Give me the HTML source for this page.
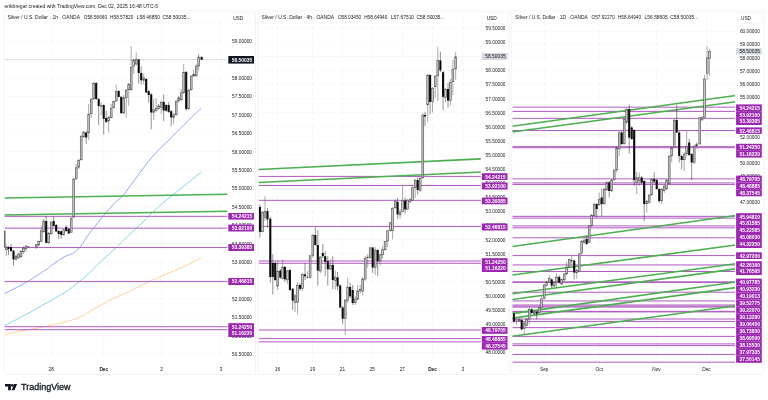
<!DOCTYPE html>
<html><head><meta charset="utf-8"><title>Silver charts</title>
<style>html,body{margin:0;padding:0;background:#fff;width:768px;height:400px;overflow:hidden}</style></head>
<body>
<svg width="768" height="400" viewBox="0 0 768 400" style="position:absolute;left:0;top:0;will-change:transform;font-family:'Liberation Sans',sans-serif">
<rect width="768" height="400" fill="#fff"/>
<text x="4.5" y="7.6" font-size="5.1" fill="#131722" textLength="153.5" lengthAdjust="spacingAndGlyphs">erikbregar created with TradingView.com, Dec 02, 2025 16:48 UTC-5</text>
<rect x="4.0" y="11.0" width="251.5" height="363.5" fill="#fff" stroke="#eaecf0" stroke-width="0.6"/>
<clipPath id="c1"><rect x="4.5" y="11.5" width="222.8" height="351.5"/></clipPath>
<line x1="4.5" x2="228.0" y1="354.05" y2="354.05" stroke="#f2f3f6" stroke-width="0.5"/>
<line x1="4.5" x2="228.0" y1="335.65" y2="335.65" stroke="#f2f3f6" stroke-width="0.5"/>
<line x1="4.5" x2="228.0" y1="317.25" y2="317.25" stroke="#f2f3f6" stroke-width="0.5"/>
<line x1="4.5" x2="228.0" y1="298.85" y2="298.85" stroke="#f2f3f6" stroke-width="0.5"/>
<line x1="4.5" x2="228.0" y1="280.45" y2="280.45" stroke="#f2f3f6" stroke-width="0.5"/>
<line x1="4.5" x2="228.0" y1="262.05" y2="262.05" stroke="#f2f3f6" stroke-width="0.5"/>
<line x1="4.5" x2="228.0" y1="243.65" y2="243.65" stroke="#f2f3f6" stroke-width="0.5"/>
<line x1="4.5" x2="228.0" y1="225.25" y2="225.25" stroke="#f2f3f6" stroke-width="0.5"/>
<line x1="4.5" x2="228.0" y1="206.85" y2="206.85" stroke="#f2f3f6" stroke-width="0.5"/>
<line x1="4.5" x2="228.0" y1="188.45" y2="188.45" stroke="#f2f3f6" stroke-width="0.5"/>
<line x1="4.5" x2="228.0" y1="170.05" y2="170.05" stroke="#f2f3f6" stroke-width="0.5"/>
<line x1="4.5" x2="228.0" y1="151.65" y2="151.65" stroke="#f2f3f6" stroke-width="0.5"/>
<line x1="4.5" x2="228.0" y1="133.25" y2="133.25" stroke="#f2f3f6" stroke-width="0.5"/>
<line x1="4.5" x2="228.0" y1="114.85" y2="114.85" stroke="#f2f3f6" stroke-width="0.5"/>
<line x1="4.5" x2="228.0" y1="96.45" y2="96.45" stroke="#f2f3f6" stroke-width="0.5"/>
<line x1="4.5" x2="228.0" y1="78.05" y2="78.05" stroke="#f2f3f6" stroke-width="0.5"/>
<line x1="4.5" x2="228.0" y1="59.65" y2="59.65" stroke="#f2f3f6" stroke-width="0.5"/>
<line x1="4.5" x2="228.0" y1="41.25" y2="41.25" stroke="#f2f3f6" stroke-width="0.5"/>
<line x1="4.5" x2="228.0" y1="22.85" y2="22.85" stroke="#f2f3f6" stroke-width="0.5"/>
<line x1="51.2" x2="51.2" y1="11.5" y2="363" stroke="#f2f3f6" stroke-width="0.5"/>
<line x1="103.8" x2="103.8" y1="11.5" y2="363" stroke="#f2f3f6" stroke-width="0.5"/>
<line x1="161.5" x2="161.5" y1="11.5" y2="363" stroke="#f2f3f6" stroke-width="0.5"/>
<line x1="221" x2="221" y1="11.5" y2="363" stroke="#f2f3f6" stroke-width="0.5"/>
<text x="7.50" y="19.3" font-size="4.9" fill="#131722" textLength="72.5" lengthAdjust="spacingAndGlyphs">Silver / U.S. Dollar · 1h · OANDA</text>
<text x="83.80" y="19.3" font-size="4.9" fill="#131722" textLength="23.2" lengthAdjust="spacingAndGlyphs">O58.56660</text>
<text x="110.10" y="19.3" font-size="4.9" fill="#131722" textLength="23.2" lengthAdjust="spacingAndGlyphs">H58.57820</text>
<text x="136.80" y="19.3" font-size="4.9" fill="#131722" textLength="23.2" lengthAdjust="spacingAndGlyphs">L58.46850</text>
<text x="162.50" y="19.3" font-size="4.9" fill="#131722" textLength="28.0" lengthAdjust="spacingAndGlyphs">C58.50035...</text>
<g clip-path="url(#c1)">
<line x1="4.5" x2="228.0" y1="59.64" y2="59.64" stroke="#8d9099" stroke-width="0.55" stroke-dasharray="0.7 0.7"/>
<path d="M4.5 293.5 C7.9 291.8 18.2 286.9 25.0 283.0 C31.8 279.1 41.0 273.0 45.5 270.0 C50.0 267.0 48.8 267.2 52.0 265.0 C55.2 262.8 61.6 258.4 65.0 256.5 C68.4 254.6 70.0 255.1 72.5 253.5 C75.0 251.9 77.5 249.9 80.0 247.0 C82.5 244.1 84.8 239.7 87.5 236.0 C90.2 232.3 92.9 228.9 96.0 225.0 C99.1 221.1 103.1 216.2 106.2 212.5 C109.4 208.8 112.3 205.2 115.0 202.5 C117.7 199.8 119.4 199.5 122.5 196.0 C125.6 192.5 130.2 186.0 133.8 181.2 C137.3 176.5 140.4 171.9 143.8 167.5 C147.1 163.1 150.2 159.0 153.8 155.0 C157.3 151.0 161.0 147.7 165.0 143.8 C169.0 139.8 173.3 135.4 177.5 131.2 C181.7 127.1 186.0 122.6 190.0 118.8 C194.0 114.9 199.4 110.0 201.2 108.2" fill="none" stroke="#8aa4f4" stroke-width="0.95" stroke-linejoin="round"/>
<path d="M4.5 325.8 C7.9 324.0 17.4 319.1 25.0 315.0 C32.6 310.9 43.3 304.8 50.0 301.0 C56.7 297.2 60.4 295.5 65.0 292.5 C69.6 289.5 73.3 286.3 77.5 283.0 C81.7 279.7 85.8 276.3 90.0 272.5 C94.2 268.7 98.1 264.2 102.5 260.0 C106.9 255.8 112.1 251.5 116.2 247.5 C120.4 243.5 123.5 240.0 127.5 236.2 C131.5 232.5 135.8 229.0 140.0 225.0 C144.2 221.0 148.3 216.5 152.5 212.5 C156.7 208.5 160.8 204.8 165.0 201.2 C169.2 197.7 173.3 194.6 177.5 191.2 C181.7 187.9 186.0 184.5 190.0 181.2 C194.0 178.0 199.6 173.5 201.5 172.0" fill="none" stroke="#7fd3ea" stroke-width="0.95" stroke-linejoin="round"/>
<path d="M4.5 334.3 C7.9 333.6 17.4 331.8 25.0 330.3 C32.6 328.8 41.7 327.4 50.0 325.5 C58.3 323.6 68.8 321.3 75.0 319.2 C81.2 317.1 83.3 315.1 87.5 312.8 C91.7 310.5 95.4 308.0 100.0 305.5 C104.6 303.0 109.6 300.4 115.0 297.8 C120.4 295.2 126.2 293.0 132.5 290.0 C138.8 287.0 145.0 283.4 152.5 280.0 C160.0 276.6 169.4 273.2 177.5 269.5 C185.6 265.8 197.3 259.9 201.2 258.0" fill="none" stroke="#ffcf8f" stroke-width="0.95" stroke-linejoin="round"/>
<line x1="4.5" x2="228.0" y1="216.34" y2="216.34" stroke="#ad50bf" stroke-width="0.95"/>
<line x1="4.5" x2="228.0" y1="228.16" y2="228.16" stroke="#ad50bf" stroke-width="0.95"/>
<line x1="4.5" x2="228.0" y1="247.56" y2="247.56" stroke="#ad50bf" stroke-width="0.95"/>
<line x1="4.5" x2="228.0" y1="281.62" y2="281.62" stroke="#ad50bf" stroke-width="0.95"/>
<line x1="4.5" x2="228.0" y1="326.73" y2="326.73" stroke="#ad50bf" stroke-width="0.95"/>
<line x1="4.5" x2="228.0" y1="329.68" y2="329.68" stroke="#ad50bf" stroke-width="0.95"/>
<line x1="4.5" y1="198" x2="228" y2="194.25" stroke="#4caf50" stroke-width="1.7"/>
<line x1="4.5" y1="215" x2="228" y2="211.25" stroke="#4caf50" stroke-width="1.7"/>
<line x1="4.30" x2="4.30" y1="230.6" y2="247.5" stroke="#222" stroke-width="0.5"/>
<rect x="3.25" y="230.6" width="2.1" height="16.9" fill="#0c0c0c"/>
<line x1="6.40" x2="6.40" y1="245.0" y2="256.0" stroke="#555" stroke-width="0.5"/>
<rect x="5.48" y="247.2" width="1.84" height="2.5" fill="#c8c8c8" stroke="#4c4c4c" stroke-width="0.6"/>
<line x1="8.50" x2="8.50" y1="246.0" y2="255.0" stroke="#222" stroke-width="0.5"/>
<rect x="7.45" y="247.0" width="2.1" height="2.0" fill="#0c0c0c"/>
<line x1="11.00" x2="11.00" y1="244.0" y2="252.0" stroke="#222" stroke-width="0.5"/>
<rect x="9.95" y="247.0" width="2.1" height="4.0" fill="#0c0c0c"/>
<line x1="13.50" x2="13.50" y1="250.0" y2="265.6" stroke="#222" stroke-width="0.5"/>
<rect x="12.45" y="250.7" width="2.1" height="8.7" fill="#0c0c0c"/>
<line x1="16.00" x2="16.00" y1="255.0" y2="261.0" stroke="#555" stroke-width="0.5"/>
<rect x="15.08" y="256.2" width="1.84" height="2.9" fill="#c8c8c8" stroke="#4c4c4c" stroke-width="0.6"/>
<line x1="18.50" x2="18.50" y1="253.0" y2="259.0" stroke="#555" stroke-width="0.5"/>
<rect x="17.58" y="254.2" width="1.84" height="3.5" fill="#c8c8c8" stroke="#4c4c4c" stroke-width="0.6"/>
<line x1="21.00" x2="21.00" y1="250.0" y2="258.0" stroke="#555" stroke-width="0.5"/>
<rect x="20.08" y="251.2" width="1.84" height="5.5" fill="#c8c8c8" stroke="#4c4c4c" stroke-width="0.6"/>
<line x1="23.50" x2="23.50" y1="246.0" y2="254.0" stroke="#555" stroke-width="0.5"/>
<rect x="22.58" y="248.2" width="1.84" height="3.5" fill="#c8c8c8" stroke="#4c4c4c" stroke-width="0.6"/>
<line x1="26.00" x2="26.00" y1="245.0" y2="252.0" stroke="#555" stroke-width="0.5"/>
<rect x="25.08" y="246.2" width="1.84" height="2.5" fill="#c8c8c8" stroke="#4c4c4c" stroke-width="0.6"/>
<line x1="28.50" x2="28.50" y1="246.6" y2="247.2" stroke="#555" stroke-width="0.5"/>
<rect x="27.58" y="246.8" width="1.84" height="0.3" fill="#c8c8c8" stroke="#4c4c4c" stroke-width="0.6"/>
<line x1="36.20" x2="36.20" y1="244.0" y2="249.0" stroke="#555" stroke-width="0.5"/>
<rect x="35.28" y="244.8" width="1.84" height="2.1" fill="#c8c8c8" stroke="#4c4c4c" stroke-width="0.6"/>
<line x1="38.70" x2="38.70" y1="241.0" y2="245.5" stroke="#555" stroke-width="0.5"/>
<rect x="37.78" y="241.2" width="1.84" height="4.0" fill="#c8c8c8" stroke="#4c4c4c" stroke-width="0.6"/>
<line x1="41.20" x2="41.20" y1="225.6" y2="242.0" stroke="#555" stroke-width="0.5"/>
<rect x="40.28" y="230.8" width="1.84" height="10.8" fill="#c8c8c8" stroke="#4c4c4c" stroke-width="0.6"/>
<line x1="43.70" x2="43.70" y1="219.0" y2="233.0" stroke="#555" stroke-width="0.5"/>
<rect x="42.78" y="221.2" width="1.84" height="10.5" fill="#c8c8c8" stroke="#4c4c4c" stroke-width="0.6"/>
<line x1="46.20" x2="46.20" y1="216.0" y2="243.5" stroke="#222" stroke-width="0.5"/>
<rect x="45.15" y="221.0" width="2.1" height="21.8" fill="#0c0c0c"/>
<line x1="48.70" x2="48.70" y1="232.0" y2="244.0" stroke="#555" stroke-width="0.5"/>
<rect x="47.78" y="233.2" width="1.84" height="9.5" fill="#c8c8c8" stroke="#4c4c4c" stroke-width="0.6"/>
<line x1="51.20" x2="51.20" y1="221.0" y2="235.0" stroke="#555" stroke-width="0.5"/>
<rect x="50.28" y="222.2" width="1.84" height="11.5" fill="#c8c8c8" stroke="#4c4c4c" stroke-width="0.6"/>
<line x1="53.70" x2="53.70" y1="216.5" y2="227.0" stroke="#222" stroke-width="0.5"/>
<rect x="52.65" y="221.0" width="2.1" height="5.0" fill="#0c0c0c"/>
<line x1="56.20" x2="56.20" y1="224.0" y2="232.0" stroke="#222" stroke-width="0.5"/>
<rect x="55.15" y="225.0" width="2.1" height="6.5" fill="#0c0c0c"/>
<line x1="58.70" x2="58.70" y1="230.0" y2="239.0" stroke="#222" stroke-width="0.5"/>
<rect x="57.65" y="231.0" width="2.1" height="3.0" fill="#0c0c0c"/>
<line x1="61.20" x2="61.20" y1="230.5" y2="238.8" stroke="#222" stroke-width="0.5"/>
<rect x="60.15" y="231.2" width="2.1" height="3.8" fill="#0c0c0c"/>
<line x1="63.70" x2="63.70" y1="229.0" y2="235.5" stroke="#555" stroke-width="0.5"/>
<rect x="62.78" y="229.7" width="1.84" height="5.1" fill="#c8c8c8" stroke="#4c4c4c" stroke-width="0.6"/>
<line x1="66.20" x2="66.20" y1="225.0" y2="232.0" stroke="#222" stroke-width="0.5"/>
<rect x="65.15" y="227.0" width="2.1" height="4.0" fill="#0c0c0c"/>
<line x1="68.70" x2="68.70" y1="228.0" y2="234.0" stroke="#222" stroke-width="0.5"/>
<rect x="67.65" y="229.0" width="2.1" height="4.5" fill="#0c0c0c"/>
<line x1="71.20" x2="71.20" y1="217.5" y2="233.0" stroke="#555" stroke-width="0.5"/>
<rect x="70.28" y="218.2" width="1.84" height="14.0" fill="#c8c8c8" stroke="#4c4c4c" stroke-width="0.6"/>
<line x1="73.70" x2="73.70" y1="178.0" y2="218.0" stroke="#555" stroke-width="0.5"/>
<rect x="72.78" y="179.2" width="1.84" height="38.0" fill="#c8c8c8" stroke="#4c4c4c" stroke-width="0.6"/>
<line x1="76.20" x2="76.20" y1="164.0" y2="180.0" stroke="#555" stroke-width="0.5"/>
<rect x="75.28" y="167.8" width="1.84" height="11.0" fill="#c8c8c8" stroke="#4c4c4c" stroke-width="0.6"/>
<line x1="78.70" x2="78.70" y1="159.0" y2="169.0" stroke="#555" stroke-width="0.5"/>
<rect x="77.78" y="160.2" width="1.84" height="7.0" fill="#c8c8c8" stroke="#4c4c4c" stroke-width="0.6"/>
<line x1="81.20" x2="81.20" y1="135.0" y2="161.0" stroke="#555" stroke-width="0.5"/>
<rect x="80.28" y="136.2" width="1.84" height="23.5" fill="#c8c8c8" stroke="#4c4c4c" stroke-width="0.6"/>
<line x1="83.70" x2="83.70" y1="131.0" y2="138.0" stroke="#555" stroke-width="0.5"/>
<rect x="82.78" y="132.2" width="1.84" height="4.5" fill="#c8c8c8" stroke="#4c4c4c" stroke-width="0.6"/>
<line x1="86.20" x2="86.20" y1="131.0" y2="144.0" stroke="#222" stroke-width="0.5"/>
<rect x="85.15" y="132.5" width="2.1" height="5.0" fill="#0c0c0c"/>
<line x1="88.70" x2="88.70" y1="104.0" y2="140.0" stroke="#555" stroke-width="0.5"/>
<rect x="87.78" y="114.2" width="1.84" height="18.5" fill="#c8c8c8" stroke="#4c4c4c" stroke-width="0.6"/>
<line x1="91.20" x2="91.20" y1="98.0" y2="118.0" stroke="#555" stroke-width="0.5"/>
<rect x="90.28" y="99.2" width="1.84" height="14.5" fill="#c8c8c8" stroke="#4c4c4c" stroke-width="0.6"/>
<line x1="93.70" x2="93.70" y1="82.0" y2="100.0" stroke="#555" stroke-width="0.5"/>
<rect x="92.78" y="83.2" width="1.84" height="15.5" fill="#c8c8c8" stroke="#4c4c4c" stroke-width="0.6"/>
<line x1="96.20" x2="96.20" y1="82.0" y2="100.0" stroke="#222" stroke-width="0.5"/>
<rect x="95.15" y="83.0" width="2.1" height="16.0" fill="#0c0c0c"/>
<line x1="98.70" x2="98.70" y1="98.0" y2="125.0" stroke="#222" stroke-width="0.5"/>
<rect x="97.65" y="99.0" width="2.1" height="7.0" fill="#0c0c0c"/>
<line x1="101.20" x2="101.20" y1="102.0" y2="115.0" stroke="#555" stroke-width="0.5"/>
<rect x="100.28" y="105.7" width="1.84" height="0.5" fill="#c8c8c8" stroke="#4c4c4c" stroke-width="0.6"/>
<line x1="103.70" x2="103.70" y1="104.5" y2="134.4" stroke="#222" stroke-width="0.5"/>
<rect x="102.65" y="105.0" width="2.1" height="13.8" fill="#0c0c0c"/>
<line x1="106.20" x2="106.20" y1="110.6" y2="123.0" stroke="#222" stroke-width="0.5"/>
<rect x="105.15" y="118.0" width="2.1" height="3.9" fill="#0c0c0c"/>
<line x1="108.70" x2="108.70" y1="116.0" y2="132.5" stroke="#555" stroke-width="0.5"/>
<rect x="107.78" y="117.2" width="1.84" height="3.8" fill="#c8c8c8" stroke="#4c4c4c" stroke-width="0.6"/>
<line x1="111.20" x2="111.20" y1="103.8" y2="118.5" stroke="#555" stroke-width="0.5"/>
<rect x="110.28" y="108.2" width="1.84" height="9.5" fill="#c8c8c8" stroke="#4c4c4c" stroke-width="0.6"/>
<line x1="113.70" x2="113.70" y1="100.5" y2="108.5" stroke="#555" stroke-width="0.5"/>
<rect x="112.78" y="101.5" width="1.84" height="6.2" fill="#c8c8c8" stroke="#4c4c4c" stroke-width="0.6"/>
<line x1="116.20" x2="116.20" y1="84.5" y2="102.0" stroke="#555" stroke-width="0.5"/>
<rect x="115.28" y="91.5" width="1.84" height="9.5" fill="#c8c8c8" stroke="#4c4c4c" stroke-width="0.6"/>
<line x1="118.70" x2="118.70" y1="90.0" y2="97.5" stroke="#222" stroke-width="0.5"/>
<rect x="117.65" y="91.0" width="2.1" height="5.9" fill="#0c0c0c"/>
<line x1="121.20" x2="121.20" y1="96.0" y2="114.0" stroke="#222" stroke-width="0.5"/>
<rect x="120.15" y="96.9" width="2.1" height="16.2" fill="#0c0c0c"/>
<line x1="123.70" x2="123.70" y1="95.0" y2="114.0" stroke="#555" stroke-width="0.5"/>
<rect x="122.78" y="97.8" width="1.84" height="15.1" fill="#c8c8c8" stroke="#4c4c4c" stroke-width="0.6"/>
<line x1="126.20" x2="126.20" y1="89.0" y2="117.5" stroke="#555" stroke-width="0.5"/>
<rect x="125.28" y="90.2" width="1.84" height="7.5" fill="#c8c8c8" stroke="#4c4c4c" stroke-width="0.6"/>
<line x1="128.70" x2="128.70" y1="83.0" y2="105.6" stroke="#555" stroke-width="0.5"/>
<rect x="127.78" y="84.2" width="1.84" height="5.5" fill="#c8c8c8" stroke="#4c4c4c" stroke-width="0.6"/>
<line x1="131.20" x2="131.20" y1="46.0" y2="91.0" stroke="#555" stroke-width="0.5"/>
<rect x="130.28" y="67.2" width="1.84" height="22.5" fill="#c8c8c8" stroke="#4c4c4c" stroke-width="0.6"/>
<line x1="133.70" x2="133.70" y1="59.0" y2="73.8" stroke="#555" stroke-width="0.5"/>
<rect x="132.78" y="60.0" width="1.84" height="6.6" fill="#c8c8c8" stroke="#4c4c4c" stroke-width="0.6"/>
<line x1="136.20" x2="136.20" y1="52.5" y2="65.0" stroke="#555" stroke-width="0.5"/>
<rect x="135.28" y="59.6" width="1.84" height="4.5" fill="#c8c8c8" stroke="#4c4c4c" stroke-width="0.6"/>
<line x1="138.70" x2="138.70" y1="59.0" y2="83.6" stroke="#222" stroke-width="0.5"/>
<rect x="137.65" y="59.4" width="2.1" height="13.6" fill="#0c0c0c"/>
<line x1="141.20" x2="141.20" y1="66.3" y2="84.5" stroke="#222" stroke-width="0.5"/>
<rect x="140.15" y="73.0" width="2.1" height="7.2" fill="#0c0c0c"/>
<line x1="143.70" x2="143.70" y1="73.6" y2="84.5" stroke="#555" stroke-width="0.5"/>
<rect x="142.78" y="77.7" width="1.84" height="2.6" fill="#c8c8c8" stroke="#4c4c4c" stroke-width="0.6"/>
<line x1="146.20" x2="146.20" y1="78.0" y2="93.0" stroke="#222" stroke-width="0.5"/>
<rect x="145.15" y="79.0" width="2.1" height="13.5" fill="#0c0c0c"/>
<line x1="148.70" x2="148.70" y1="90.0" y2="102.5" stroke="#222" stroke-width="0.5"/>
<rect x="147.65" y="91.2" width="2.1" height="3.8" fill="#0c0c0c"/>
<line x1="151.20" x2="151.20" y1="93.0" y2="129.4" stroke="#222" stroke-width="0.5"/>
<rect x="150.15" y="94.4" width="2.1" height="18.1" fill="#0c0c0c"/>
<line x1="153.70" x2="153.70" y1="98.8" y2="120.0" stroke="#555" stroke-width="0.5"/>
<rect x="152.78" y="109.7" width="1.84" height="2.6" fill="#c8c8c8" stroke="#4c4c4c" stroke-width="0.6"/>
<line x1="156.20" x2="156.20" y1="98.0" y2="112.5" stroke="#555" stroke-width="0.5"/>
<rect x="155.28" y="108.2" width="1.84" height="2.1" fill="#c8c8c8" stroke="#4c4c4c" stroke-width="0.6"/>
<line x1="158.70" x2="158.70" y1="104.0" y2="110.0" stroke="#555" stroke-width="0.5"/>
<rect x="157.78" y="105.8" width="1.84" height="2.7" fill="#c8c8c8" stroke="#4c4c4c" stroke-width="0.6"/>
<line x1="161.20" x2="161.20" y1="100.5" y2="113.8" stroke="#555" stroke-width="0.5"/>
<rect x="160.28" y="102.2" width="1.84" height="5.1" fill="#c8c8c8" stroke="#4c4c4c" stroke-width="0.6"/>
<line x1="163.70" x2="163.70" y1="94.4" y2="121.2" stroke="#222" stroke-width="0.5"/>
<rect x="162.65" y="101.9" width="2.1" height="8.7" fill="#0c0c0c"/>
<line x1="166.20" x2="166.20" y1="104.0" y2="112.0" stroke="#222" stroke-width="0.5"/>
<rect x="165.15" y="105.0" width="2.1" height="5.6" fill="#0c0c0c"/>
<line x1="168.70" x2="168.70" y1="101.9" y2="113.0" stroke="#222" stroke-width="0.5"/>
<rect x="167.65" y="105.0" width="2.1" height="6.9" fill="#0c0c0c"/>
<line x1="171.20" x2="171.20" y1="110.0" y2="126.2" stroke="#222" stroke-width="0.5"/>
<rect x="170.15" y="111.2" width="2.1" height="6.2" fill="#0c0c0c"/>
<line x1="173.70" x2="173.70" y1="113.0" y2="124.0" stroke="#555" stroke-width="0.5"/>
<rect x="172.78" y="114.7" width="1.84" height="2.6" fill="#c8c8c8" stroke="#4c4c4c" stroke-width="0.6"/>
<line x1="176.20" x2="176.20" y1="100.0" y2="116.0" stroke="#555" stroke-width="0.5"/>
<rect x="175.28" y="101.2" width="1.84" height="13.5" fill="#c8c8c8" stroke="#4c4c4c" stroke-width="0.6"/>
<line x1="178.70" x2="178.70" y1="96.0" y2="103.0" stroke="#555" stroke-width="0.5"/>
<rect x="177.78" y="97.8" width="1.84" height="3.0" fill="#c8c8c8" stroke="#4c4c4c" stroke-width="0.6"/>
<line x1="181.20" x2="181.20" y1="89.0" y2="101.0" stroke="#555" stroke-width="0.5"/>
<rect x="180.28" y="92.8" width="1.84" height="7.0" fill="#c8c8c8" stroke="#4c4c4c" stroke-width="0.6"/>
<line x1="183.70" x2="183.70" y1="64.0" y2="94.0" stroke="#555" stroke-width="0.5"/>
<rect x="182.78" y="72.2" width="1.84" height="20.5" fill="#c8c8c8" stroke="#4c4c4c" stroke-width="0.6"/>
<line x1="186.20" x2="186.20" y1="71.0" y2="111.0" stroke="#222" stroke-width="0.5"/>
<rect x="185.15" y="72.0" width="2.1" height="37.0" fill="#0c0c0c"/>
<line x1="188.70" x2="188.70" y1="89.0" y2="110.0" stroke="#555" stroke-width="0.5"/>
<rect x="187.78" y="90.2" width="1.84" height="18.5" fill="#c8c8c8" stroke="#4c4c4c" stroke-width="0.6"/>
<line x1="191.20" x2="191.20" y1="75.0" y2="91.0" stroke="#555" stroke-width="0.5"/>
<rect x="190.28" y="76.2" width="1.84" height="13.5" fill="#c8c8c8" stroke="#4c4c4c" stroke-width="0.6"/>
<line x1="193.70" x2="193.70" y1="69.4" y2="77.0" stroke="#555" stroke-width="0.5"/>
<rect x="192.78" y="74.2" width="1.84" height="1.8" fill="#c8c8c8" stroke="#4c4c4c" stroke-width="0.6"/>
<line x1="196.20" x2="196.20" y1="64.0" y2="77.0" stroke="#555" stroke-width="0.5"/>
<rect x="195.28" y="66.2" width="1.84" height="9.5" fill="#c8c8c8" stroke="#4c4c4c" stroke-width="0.6"/>
<line x1="198.70" x2="198.70" y1="53.8" y2="70.6" stroke="#555" stroke-width="0.5"/>
<rect x="197.78" y="57.1" width="1.84" height="8.9" fill="#c8c8c8" stroke="#4c4c4c" stroke-width="0.6"/>
<line x1="201.60" x2="201.60" y1="56.5" y2="60.0" stroke="#222" stroke-width="0.5"/>
<rect x="200.55" y="56.9" width="2.1" height="2.9" fill="#0c0c0c"/>
</g>
<rect x="229.5" y="13.2" width="25" height="10.4" rx="1" fill="#fff" stroke="#eef0f3" stroke-width="0.5"/>
<text x="233.2" y="20.2" font-size="4.75" fill="#131722">USD</text>
<text x="232.1" y="355.90" font-size="5.0" fill="#131722" textLength="19.9" lengthAdjust="spacingAndGlyphs">50.50000</text>
<text x="232.1" y="337.50" font-size="5.0" fill="#131722" textLength="19.9" lengthAdjust="spacingAndGlyphs">51.00000</text>
<text x="232.1" y="319.10" font-size="5.0" fill="#131722" textLength="19.9" lengthAdjust="spacingAndGlyphs">51.50000</text>
<text x="232.1" y="300.70" font-size="5.0" fill="#131722" textLength="19.9" lengthAdjust="spacingAndGlyphs">52.00000</text>
<text x="232.1" y="282.30" font-size="5.0" fill="#131722" textLength="19.9" lengthAdjust="spacingAndGlyphs">52.50000</text>
<text x="232.1" y="263.90" font-size="5.0" fill="#131722" textLength="19.9" lengthAdjust="spacingAndGlyphs">53.00000</text>
<text x="232.1" y="245.50" font-size="5.0" fill="#131722" textLength="19.9" lengthAdjust="spacingAndGlyphs">53.50000</text>
<text x="232.1" y="227.10" font-size="5.0" fill="#131722" textLength="19.9" lengthAdjust="spacingAndGlyphs">54.00000</text>
<text x="232.1" y="208.70" font-size="5.0" fill="#131722" textLength="19.9" lengthAdjust="spacingAndGlyphs">54.50000</text>
<text x="232.1" y="190.30" font-size="5.0" fill="#131722" textLength="19.9" lengthAdjust="spacingAndGlyphs">55.00000</text>
<text x="232.1" y="171.90" font-size="5.0" fill="#131722" textLength="19.9" lengthAdjust="spacingAndGlyphs">55.50000</text>
<text x="232.1" y="153.50" font-size="5.0" fill="#131722" textLength="19.9" lengthAdjust="spacingAndGlyphs">56.00000</text>
<text x="232.1" y="135.10" font-size="5.0" fill="#131722" textLength="19.9" lengthAdjust="spacingAndGlyphs">56.50000</text>
<text x="232.1" y="116.70" font-size="5.0" fill="#131722" textLength="19.9" lengthAdjust="spacingAndGlyphs">57.00000</text>
<text x="232.1" y="98.30" font-size="5.0" fill="#131722" textLength="19.9" lengthAdjust="spacingAndGlyphs">57.50000</text>
<text x="232.1" y="79.90" font-size="5.0" fill="#131722" textLength="19.9" lengthAdjust="spacingAndGlyphs">58.00000</text>
<text x="232.1" y="61.50" font-size="5.0" fill="#131722" textLength="19.9" lengthAdjust="spacingAndGlyphs">58.50000</text>
<text x="232.1" y="43.10" font-size="5.0" fill="#131722" textLength="19.9" lengthAdjust="spacingAndGlyphs">59.00000</text>
<rect x="228.3" y="56.00" width="25.7" height="7.60" fill="#131722"/>
<text x="231.7" y="61.70" font-size="5.3" font-weight="bold" fill="#fff" textLength="20.5" lengthAdjust="spacingAndGlyphs">58.50035</text>
<rect x="228.3" y="213.00" width="25.7" height="6.60" fill="#9c27b0"/>
<text x="231.7" y="218.20" font-size="5.3" font-weight="bold" fill="#fff" textLength="20.5" lengthAdjust="spacingAndGlyphs">54.24215</text>
<rect x="228.3" y="224.60" width="25.7" height="6.90" fill="#9c27b0"/>
<text x="231.7" y="229.95" font-size="5.3" font-weight="bold" fill="#fff" textLength="20.5" lengthAdjust="spacingAndGlyphs">53.92100</text>
<rect x="228.3" y="244.10" width="25.7" height="6.90" fill="#9c27b0"/>
<text x="231.7" y="249.45" font-size="5.3" font-weight="bold" fill="#fff" textLength="20.5" lengthAdjust="spacingAndGlyphs">53.39385</text>
<rect x="228.3" y="278.00" width="25.7" height="7.00" fill="#9c27b0"/>
<text x="231.7" y="283.40" font-size="5.3" font-weight="bold" fill="#fff" textLength="20.5" lengthAdjust="spacingAndGlyphs">52.46815</text>
<rect x="228.3" y="323.20" width="25.7" height="6.80" fill="#9c27b0"/>
<text x="231.7" y="328.50" font-size="5.3" font-weight="bold" fill="#fff" textLength="20.5" lengthAdjust="spacingAndGlyphs">51.24250</text>
<rect x="228.3" y="330.00" width="25.7" height="7.00" fill="#9c27b0"/>
<text x="231.7" y="335.40" font-size="5.3" font-weight="bold" fill="#fff" textLength="20.5" lengthAdjust="spacingAndGlyphs">51.16220</text>
<text x="51.2" y="370.6" font-size="4.75" fill="#131722" text-anchor="middle">28</text>
<text x="103.8" y="370.6" font-size="4.75" fill="#131722" text-anchor="middle" font-weight="bold">Dec</text>
<text x="161.5" y="370.6" font-size="4.75" fill="#131722" text-anchor="middle">2</text>
<text x="221" y="370.6" font-size="4.75" fill="#131722" text-anchor="middle">3</text>
<rect x="258.1" y="11.0" width="250.89999999999998" height="363.5" fill="#fff" stroke="#eaecf0" stroke-width="0.6"/>
<clipPath id="c2"><rect x="258.6" y="11.5" width="222.2" height="351.5"/></clipPath>
<line x1="258.6" x2="481.5" y1="352.45" y2="352.45" stroke="#f2f3f6" stroke-width="0.5"/>
<line x1="258.6" x2="481.5" y1="338.35" y2="338.35" stroke="#f2f3f6" stroke-width="0.5"/>
<line x1="258.6" x2="481.5" y1="324.25" y2="324.25" stroke="#f2f3f6" stroke-width="0.5"/>
<line x1="258.6" x2="481.5" y1="310.15" y2="310.15" stroke="#f2f3f6" stroke-width="0.5"/>
<line x1="258.6" x2="481.5" y1="296.05" y2="296.05" stroke="#f2f3f6" stroke-width="0.5"/>
<line x1="258.6" x2="481.5" y1="281.95" y2="281.95" stroke="#f2f3f6" stroke-width="0.5"/>
<line x1="258.6" x2="481.5" y1="267.85" y2="267.85" stroke="#f2f3f6" stroke-width="0.5"/>
<line x1="258.6" x2="481.5" y1="253.75" y2="253.75" stroke="#f2f3f6" stroke-width="0.5"/>
<line x1="258.6" x2="481.5" y1="239.65" y2="239.65" stroke="#f2f3f6" stroke-width="0.5"/>
<line x1="258.6" x2="481.5" y1="225.55" y2="225.55" stroke="#f2f3f6" stroke-width="0.5"/>
<line x1="258.6" x2="481.5" y1="211.45" y2="211.45" stroke="#f2f3f6" stroke-width="0.5"/>
<line x1="258.6" x2="481.5" y1="197.35" y2="197.35" stroke="#f2f3f6" stroke-width="0.5"/>
<line x1="258.6" x2="481.5" y1="183.25" y2="183.25" stroke="#f2f3f6" stroke-width="0.5"/>
<line x1="258.6" x2="481.5" y1="169.15" y2="169.15" stroke="#f2f3f6" stroke-width="0.5"/>
<line x1="258.6" x2="481.5" y1="155.05" y2="155.05" stroke="#f2f3f6" stroke-width="0.5"/>
<line x1="258.6" x2="481.5" y1="140.95" y2="140.95" stroke="#f2f3f6" stroke-width="0.5"/>
<line x1="258.6" x2="481.5" y1="126.85" y2="126.85" stroke="#f2f3f6" stroke-width="0.5"/>
<line x1="258.6" x2="481.5" y1="112.75" y2="112.75" stroke="#f2f3f6" stroke-width="0.5"/>
<line x1="258.6" x2="481.5" y1="98.65" y2="98.65" stroke="#f2f3f6" stroke-width="0.5"/>
<line x1="258.6" x2="481.5" y1="84.55" y2="84.55" stroke="#f2f3f6" stroke-width="0.5"/>
<line x1="258.6" x2="481.5" y1="70.45" y2="70.45" stroke="#f2f3f6" stroke-width="0.5"/>
<line x1="258.6" x2="481.5" y1="56.35" y2="56.35" stroke="#f2f3f6" stroke-width="0.5"/>
<line x1="258.6" x2="481.5" y1="42.25" y2="42.25" stroke="#f2f3f6" stroke-width="0.5"/>
<line x1="258.6" x2="481.5" y1="28.15" y2="28.15" stroke="#f2f3f6" stroke-width="0.5"/>
<line x1="277.5" x2="277.5" y1="11.5" y2="363" stroke="#f2f3f6" stroke-width="0.5"/>
<line x1="312.5" x2="312.5" y1="11.5" y2="363" stroke="#f2f3f6" stroke-width="0.5"/>
<line x1="342.5" x2="342.5" y1="11.5" y2="363" stroke="#f2f3f6" stroke-width="0.5"/>
<line x1="372.3" x2="372.3" y1="11.5" y2="363" stroke="#f2f3f6" stroke-width="0.5"/>
<line x1="402.3" x2="402.3" y1="11.5" y2="363" stroke="#f2f3f6" stroke-width="0.5"/>
<line x1="432.5" x2="432.5" y1="11.5" y2="363" stroke="#f2f3f6" stroke-width="0.5"/>
<line x1="462.8" x2="462.8" y1="11.5" y2="363" stroke="#f2f3f6" stroke-width="0.5"/>
<text x="261.60" y="19.3" font-size="4.9" fill="#131722" textLength="72.5" lengthAdjust="spacingAndGlyphs">Silver / U.S. Dollar · 4h · OANDA</text>
<text x="337.90" y="19.3" font-size="4.9" fill="#131722" textLength="23.2" lengthAdjust="spacingAndGlyphs">O58.03450</text>
<text x="364.20" y="19.3" font-size="4.9" fill="#131722" textLength="23.2" lengthAdjust="spacingAndGlyphs">H58.64940</text>
<text x="390.90" y="19.3" font-size="4.9" fill="#131722" textLength="23.2" lengthAdjust="spacingAndGlyphs">L57.67510</text>
<text x="416.60" y="19.3" font-size="4.9" fill="#131722" textLength="28.0" lengthAdjust="spacingAndGlyphs">C58.50035...</text>
<g clip-path="url(#c2)">
<line x1="258.6" x2="481.5" y1="56.34" y2="56.34" stroke="#f2f3f6" stroke-width="0.5"/>
<line x1="258.6" x2="481.5" y1="176.42" y2="176.42" stroke="#ad50bf" stroke-width="0.95"/>
<line x1="258.6" x2="481.5" y1="185.48" y2="185.48" stroke="#ad50bf" stroke-width="0.95"/>
<line x1="258.6" x2="481.5" y1="200.34" y2="200.34" stroke="#ad50bf" stroke-width="0.95"/>
<line x1="258.6" x2="481.5" y1="226.45" y2="226.45" stroke="#ad50bf" stroke-width="0.95"/>
<line x1="258.6" x2="481.5" y1="261.01" y2="261.01" stroke="#ad50bf" stroke-width="0.95"/>
<line x1="258.6" x2="481.5" y1="263.28" y2="263.28" stroke="#ad50bf" stroke-width="0.95"/>
<line x1="258.6" x2="481.5" y1="329.97" y2="329.97" stroke="#ad50bf" stroke-width="0.95"/>
<line x1="258.6" x2="481.5" y1="338.66" y2="338.66" stroke="#ad50bf" stroke-width="0.95"/>
<line x1="258.6" x2="481.5" y1="341.86" y2="341.86" stroke="#ad50bf" stroke-width="0.95"/>
<line x1="258" y1="169.5" x2="481.5" y2="158.75" stroke="#4caf50" stroke-width="1.7"/>
<line x1="258" y1="182.5" x2="481.5" y2="172" stroke="#4caf50" stroke-width="1.7"/>
<line x1="259.90" x2="259.90" y1="204.4" y2="237.5" stroke="#222" stroke-width="0.5"/>
<rect x="258.85" y="206.9" width="2.1" height="25.0" fill="#0c0c0c"/>
<line x1="262.50" x2="262.50" y1="211.0" y2="232.5" stroke="#555" stroke-width="0.5"/>
<rect x="261.58" y="212.2" width="1.84" height="19.5" fill="#c8c8c8" stroke="#4c4c4c" stroke-width="0.6"/>
<line x1="265.00" x2="265.00" y1="196.2" y2="221.0" stroke="#555" stroke-width="0.5"/>
<rect x="264.08" y="211.5" width="1.84" height="5.8" fill="#c8c8c8" stroke="#4c4c4c" stroke-width="0.6"/>
<line x1="267.50" x2="267.50" y1="208.0" y2="227.5" stroke="#222" stroke-width="0.5"/>
<rect x="266.45" y="211.2" width="2.1" height="8.2" fill="#0c0c0c"/>
<line x1="270.30" x2="270.30" y1="217.0" y2="282.5" stroke="#222" stroke-width="0.5"/>
<rect x="269.25" y="218.8" width="2.1" height="58.2" fill="#0c0c0c"/>
<line x1="272.80" x2="272.80" y1="254.4" y2="294.4" stroke="#222" stroke-width="0.5"/>
<rect x="271.75" y="263.0" width="2.1" height="14.0" fill="#0c0c0c"/>
<line x1="275.20" x2="275.20" y1="262.0" y2="281.0" stroke="#222" stroke-width="0.5"/>
<rect x="274.15" y="263.0" width="2.1" height="17.0" fill="#0c0c0c"/>
<line x1="277.70" x2="277.70" y1="261.2" y2="290.0" stroke="#555" stroke-width="0.5"/>
<rect x="276.78" y="271.5" width="1.84" height="14.5" fill="#c8c8c8" stroke="#4c4c4c" stroke-width="0.6"/>
<line x1="280.30" x2="280.30" y1="269.0" y2="279.0" stroke="#222" stroke-width="0.5"/>
<rect x="279.25" y="270.6" width="2.1" height="6.9" fill="#0c0c0c"/>
<line x1="282.70" x2="282.70" y1="259.4" y2="279.5" stroke="#555" stroke-width="0.5"/>
<rect x="281.78" y="267.1" width="1.84" height="11.4" fill="#c8c8c8" stroke="#4c4c4c" stroke-width="0.6"/>
<line x1="284.90" x2="284.90" y1="266.0" y2="282.0" stroke="#222" stroke-width="0.5"/>
<rect x="283.85" y="266.9" width="2.1" height="12.5" fill="#0c0c0c"/>
<line x1="287.40" x2="287.40" y1="270.0" y2="284.0" stroke="#555" stroke-width="0.5"/>
<rect x="286.48" y="270.9" width="1.84" height="8.9" fill="#c8c8c8" stroke="#4c4c4c" stroke-width="0.6"/>
<line x1="289.90" x2="289.90" y1="269.0" y2="291.0" stroke="#222" stroke-width="0.5"/>
<rect x="288.85" y="270.0" width="2.1" height="20.0" fill="#0c0c0c"/>
<line x1="292.70" x2="292.70" y1="288.0" y2="310.0" stroke="#222" stroke-width="0.5"/>
<rect x="291.65" y="288.8" width="2.1" height="11.9" fill="#0c0c0c"/>
<line x1="295.10" x2="295.10" y1="294.0" y2="312.0" stroke="#555" stroke-width="0.5"/>
<rect x="294.18" y="295.9" width="1.84" height="6.4" fill="#c8c8c8" stroke="#4c4c4c" stroke-width="0.6"/>
<line x1="297.60" x2="297.60" y1="282.0" y2="314.4" stroke="#555" stroke-width="0.5"/>
<rect x="296.68" y="285.2" width="1.84" height="17.0" fill="#c8c8c8" stroke="#4c4c4c" stroke-width="0.6"/>
<line x1="300.10" x2="300.10" y1="283.0" y2="291.0" stroke="#222" stroke-width="0.5"/>
<rect x="299.05" y="285.0" width="2.1" height="3.8" fill="#0c0c0c"/>
<line x1="302.50" x2="302.50" y1="273.0" y2="291.0" stroke="#555" stroke-width="0.5"/>
<rect x="301.58" y="274.6" width="1.84" height="13.9" fill="#c8c8c8" stroke="#4c4c4c" stroke-width="0.6"/>
<line x1="305.00" x2="305.00" y1="263.0" y2="280.0" stroke="#222" stroke-width="0.5"/>
<rect x="303.95" y="274.4" width="2.1" height="1.9" fill="#0c0c0c"/>
<line x1="307.60" x2="307.60" y1="271.2" y2="278.8" stroke="#555" stroke-width="0.5"/>
<rect x="306.68" y="277.2" width="1.84" height="0.3" fill="#c8c8c8" stroke="#4c4c4c" stroke-width="0.6"/>
<line x1="310.10" x2="310.10" y1="255.0" y2="279.0" stroke="#555" stroke-width="0.5"/>
<rect x="309.18" y="255.8" width="1.84" height="21.4" fill="#c8c8c8" stroke="#4c4c4c" stroke-width="0.6"/>
<line x1="312.80" x2="312.80" y1="234.0" y2="258.0" stroke="#555" stroke-width="0.5"/>
<rect x="311.88" y="235.2" width="1.84" height="20.1" fill="#c8c8c8" stroke="#4c4c4c" stroke-width="0.6"/>
<line x1="315.30" x2="315.30" y1="227.0" y2="246.0" stroke="#222" stroke-width="0.5"/>
<rect x="314.25" y="235.0" width="2.1" height="10.0" fill="#0c0c0c"/>
<line x1="317.80" x2="317.80" y1="230.0" y2="285.6" stroke="#222" stroke-width="0.5"/>
<rect x="316.75" y="245.0" width="2.1" height="25.6" fill="#0c0c0c"/>
<line x1="320.30" x2="320.30" y1="256.0" y2="273.0" stroke="#555" stroke-width="0.5"/>
<rect x="319.38" y="257.1" width="1.84" height="13.9" fill="#c8c8c8" stroke="#4c4c4c" stroke-width="0.6"/>
<line x1="322.80" x2="322.80" y1="244.0" y2="258.0" stroke="#222" stroke-width="0.5"/>
<rect x="321.75" y="253.0" width="2.1" height="3.2" fill="#0c0c0c"/>
<line x1="325.20" x2="325.20" y1="251.2" y2="276.2" stroke="#222" stroke-width="0.5"/>
<rect x="324.15" y="256.2" width="2.1" height="5.6" fill="#0c0c0c"/>
<line x1="327.80" x2="327.80" y1="256.2" y2="285.6" stroke="#222" stroke-width="0.5"/>
<rect x="326.75" y="261.2" width="2.1" height="8.1" fill="#0c0c0c"/>
<line x1="330.30" x2="330.30" y1="259.4" y2="270.0" stroke="#555" stroke-width="0.5"/>
<rect x="329.38" y="265.2" width="1.84" height="3.9" fill="#c8c8c8" stroke="#4c4c4c" stroke-width="0.6"/>
<line x1="332.80" x2="332.80" y1="256.2" y2="289.4" stroke="#222" stroke-width="0.5"/>
<rect x="331.75" y="265.0" width="2.1" height="15.0" fill="#0c0c0c"/>
<line x1="335.30" x2="335.30" y1="270.6" y2="289.4" stroke="#555" stroke-width="0.5"/>
<rect x="334.38" y="277.2" width="1.84" height="3.1" fill="#c8c8c8" stroke="#4c4c4c" stroke-width="0.6"/>
<line x1="337.60" x2="337.60" y1="272.0" y2="290.6" stroke="#222" stroke-width="0.5"/>
<rect x="336.55" y="277.5" width="2.1" height="8.8" fill="#0c0c0c"/>
<line x1="340.20" x2="340.20" y1="284.0" y2="308.0" stroke="#222" stroke-width="0.5"/>
<rect x="339.15" y="285.6" width="2.1" height="21.9" fill="#0c0c0c"/>
<line x1="342.70" x2="342.70" y1="306.0" y2="324.0" stroke="#222" stroke-width="0.5"/>
<rect x="341.65" y="307.5" width="2.1" height="11.2" fill="#0c0c0c"/>
<line x1="345.20" x2="345.20" y1="299.0" y2="335.0" stroke="#555" stroke-width="0.5"/>
<rect x="344.28" y="300.2" width="1.84" height="18.2" fill="#c8c8c8" stroke="#4c4c4c" stroke-width="0.6"/>
<line x1="347.70" x2="347.70" y1="277.5" y2="303.0" stroke="#555" stroke-width="0.5"/>
<rect x="346.78" y="287.1" width="1.84" height="13.2" fill="#c8c8c8" stroke="#4c4c4c" stroke-width="0.6"/>
<line x1="350.10" x2="350.10" y1="283.0" y2="298.0" stroke="#222" stroke-width="0.5"/>
<rect x="349.05" y="286.9" width="2.1" height="9.4" fill="#0c0c0c"/>
<line x1="352.70" x2="352.70" y1="285.0" y2="305.0" stroke="#222" stroke-width="0.5"/>
<rect x="351.65" y="290.0" width="2.1" height="13.0" fill="#0c0c0c"/>
<line x1="355.20" x2="355.20" y1="296.0" y2="305.0" stroke="#555" stroke-width="0.5"/>
<rect x="354.28" y="299.0" width="1.84" height="3.8" fill="#c8c8c8" stroke="#4c4c4c" stroke-width="0.6"/>
<line x1="357.70" x2="357.70" y1="285.0" y2="300.0" stroke="#555" stroke-width="0.5"/>
<rect x="356.78" y="290.9" width="1.84" height="8.3" fill="#c8c8c8" stroke="#4c4c4c" stroke-width="0.6"/>
<line x1="360.20" x2="360.20" y1="285.0" y2="294.0" stroke="#555" stroke-width="0.5"/>
<rect x="359.28" y="289.6" width="1.84" height="1.4" fill="#c8c8c8" stroke="#4c4c4c" stroke-width="0.6"/>
<line x1="362.70" x2="362.70" y1="277.0" y2="295.6" stroke="#555" stroke-width="0.5"/>
<rect x="361.78" y="279.0" width="1.84" height="12.6" fill="#c8c8c8" stroke="#4c4c4c" stroke-width="0.6"/>
<line x1="365.20" x2="365.20" y1="256.2" y2="281.0" stroke="#555" stroke-width="0.5"/>
<rect x="364.28" y="258.2" width="1.84" height="20.9" fill="#c8c8c8" stroke="#4c4c4c" stroke-width="0.6"/>
<line x1="367.70" x2="367.70" y1="254.0" y2="267.5" stroke="#555" stroke-width="0.5"/>
<rect x="366.78" y="257.1" width="1.84" height="0.6" fill="#c8c8c8" stroke="#4c4c4c" stroke-width="0.6"/>
<line x1="370.20" x2="370.20" y1="247.0" y2="259.0" stroke="#555" stroke-width="0.5"/>
<rect x="369.28" y="247.8" width="1.84" height="9.5" fill="#c8c8c8" stroke="#4c4c4c" stroke-width="0.6"/>
<line x1="372.70" x2="372.70" y1="247.0" y2="273.0" stroke="#222" stroke-width="0.5"/>
<rect x="371.65" y="247.5" width="2.1" height="20.0" fill="#0c0c0c"/>
<line x1="375.20" x2="375.20" y1="247.0" y2="275.0" stroke="#555" stroke-width="0.5"/>
<rect x="374.28" y="250.2" width="1.84" height="17.0" fill="#c8c8c8" stroke="#4c4c4c" stroke-width="0.6"/>
<line x1="377.70" x2="377.70" y1="249.0" y2="276.0" stroke="#222" stroke-width="0.5"/>
<rect x="376.65" y="250.0" width="2.1" height="11.2" fill="#0c0c0c"/>
<line x1="380.20" x2="380.20" y1="254.0" y2="265.6" stroke="#555" stroke-width="0.5"/>
<rect x="379.28" y="254.7" width="1.84" height="6.3" fill="#c8c8c8" stroke="#4c4c4c" stroke-width="0.6"/>
<line x1="382.60" x2="382.60" y1="245.6" y2="258.8" stroke="#555" stroke-width="0.5"/>
<rect x="381.68" y="249.7" width="1.84" height="5.1" fill="#c8c8c8" stroke="#4c4c4c" stroke-width="0.6"/>
<line x1="385.10" x2="385.10" y1="241.0" y2="251.0" stroke="#555" stroke-width="0.5"/>
<rect x="384.18" y="241.5" width="1.84" height="8.2" fill="#c8c8c8" stroke="#4c4c4c" stroke-width="0.6"/>
<line x1="387.60" x2="387.60" y1="230.0" y2="247.0" stroke="#555" stroke-width="0.5"/>
<rect x="386.68" y="230.8" width="1.84" height="10.2" fill="#c8c8c8" stroke="#4c4c4c" stroke-width="0.6"/>
<line x1="390.40" x2="390.40" y1="222.0" y2="232.0" stroke="#555" stroke-width="0.5"/>
<rect x="389.48" y="222.8" width="1.84" height="7.6" fill="#c8c8c8" stroke="#4c4c4c" stroke-width="0.6"/>
<line x1="392.60" x2="392.60" y1="207.0" y2="239.4" stroke="#555" stroke-width="0.5"/>
<rect x="391.68" y="208.2" width="1.84" height="22.5" fill="#c8c8c8" stroke="#4c4c4c" stroke-width="0.6"/>
<line x1="395.20" x2="395.20" y1="199.4" y2="209.0" stroke="#555" stroke-width="0.5"/>
<rect x="394.28" y="201.5" width="1.84" height="6.2" fill="#c8c8c8" stroke="#4c4c4c" stroke-width="0.6"/>
<line x1="397.60" x2="397.60" y1="198.0" y2="218.8" stroke="#222" stroke-width="0.5"/>
<rect x="396.55" y="201.9" width="2.1" height="12.5" fill="#0c0c0c"/>
<line x1="400.00" x2="400.00" y1="209.0" y2="218.8" stroke="#555" stroke-width="0.5"/>
<rect x="399.08" y="212.2" width="1.84" height="2.6" fill="#c8c8c8" stroke="#4c4c4c" stroke-width="0.6"/>
<line x1="402.60" x2="402.60" y1="185.6" y2="212.0" stroke="#555" stroke-width="0.5"/>
<rect x="401.68" y="200.8" width="1.84" height="10.8" fill="#c8c8c8" stroke="#4c4c4c" stroke-width="0.6"/>
<line x1="405.10" x2="405.10" y1="197.5" y2="213.8" stroke="#222" stroke-width="0.5"/>
<rect x="404.05" y="200.6" width="2.1" height="8.8" fill="#0c0c0c"/>
<line x1="407.50" x2="407.50" y1="199.0" y2="210.0" stroke="#555" stroke-width="0.5"/>
<rect x="406.58" y="200.2" width="1.84" height="8.9" fill="#c8c8c8" stroke="#4c4c4c" stroke-width="0.6"/>
<line x1="410.00" x2="410.00" y1="198.0" y2="203.8" stroke="#555" stroke-width="0.5"/>
<rect x="409.08" y="199.7" width="1.84" height="2.0" fill="#c8c8c8" stroke="#4c4c4c" stroke-width="0.6"/>
<line x1="412.60" x2="412.60" y1="186.0" y2="201.0" stroke="#555" stroke-width="0.5"/>
<rect x="411.68" y="187.8" width="1.84" height="12.6" fill="#c8c8c8" stroke="#4c4c4c" stroke-width="0.6"/>
<line x1="415.20" x2="415.20" y1="179.0" y2="198.0" stroke="#555" stroke-width="0.5"/>
<rect x="414.28" y="180.2" width="1.84" height="7.5" fill="#c8c8c8" stroke="#4c4c4c" stroke-width="0.6"/>
<line x1="417.70" x2="417.70" y1="177.0" y2="194.4" stroke="#222" stroke-width="0.5"/>
<rect x="416.65" y="180.0" width="2.1" height="10.0" fill="#0c0c0c"/>
<line x1="420.20" x2="420.20" y1="177.0" y2="192.0" stroke="#555" stroke-width="0.5"/>
<rect x="419.28" y="178.2" width="1.84" height="12.1" fill="#c8c8c8" stroke="#4c4c4c" stroke-width="0.6"/>
<line x1="422.80" x2="422.80" y1="113.0" y2="179.0" stroke="#555" stroke-width="0.5"/>
<rect x="421.88" y="115.2" width="1.84" height="62.5" fill="#c8c8c8" stroke="#4c4c4c" stroke-width="0.6"/>
<line x1="425.00" x2="425.00" y1="111.9" y2="126.2" stroke="#222" stroke-width="0.5"/>
<rect x="423.95" y="115.0" width="2.1" height="1.5" fill="#0c0c0c"/>
<line x1="427.70" x2="427.70" y1="74.0" y2="121.9" stroke="#555" stroke-width="0.5"/>
<rect x="426.78" y="75.2" width="1.84" height="29.5" fill="#c8c8c8" stroke="#4c4c4c" stroke-width="0.6"/>
<line x1="430.10" x2="430.10" y1="74.0" y2="114.4" stroke="#222" stroke-width="0.5"/>
<rect x="429.05" y="75.0" width="2.1" height="26.9" fill="#0c0c0c"/>
<line x1="432.50" x2="432.50" y1="87.0" y2="112.5" stroke="#555" stroke-width="0.5"/>
<rect x="431.58" y="88.2" width="1.84" height="13.4" fill="#c8c8c8" stroke="#4c4c4c" stroke-width="0.6"/>
<line x1="435.20" x2="435.20" y1="75.0" y2="97.5" stroke="#555" stroke-width="0.5"/>
<rect x="434.28" y="76.2" width="1.84" height="10.5" fill="#c8c8c8" stroke="#4c4c4c" stroke-width="0.6"/>
<line x1="437.80" x2="437.80" y1="46.6" y2="101.0" stroke="#555" stroke-width="0.5"/>
<rect x="436.88" y="60.6" width="1.84" height="15.1" fill="#c8c8c8" stroke="#4c4c4c" stroke-width="0.6"/>
<line x1="440.40" x2="440.40" y1="51.6" y2="72.0" stroke="#222" stroke-width="0.5"/>
<rect x="439.35" y="60.4" width="2.1" height="10.0" fill="#0c0c0c"/>
<line x1="443.10" x2="443.10" y1="71.0" y2="110.0" stroke="#222" stroke-width="0.5"/>
<rect x="442.05" y="72.2" width="2.1" height="24.7" fill="#0c0c0c"/>
<line x1="445.50" x2="445.50" y1="88.0" y2="102.5" stroke="#555" stroke-width="0.5"/>
<rect x="444.58" y="89.2" width="1.84" height="8.0" fill="#c8c8c8" stroke="#4c4c4c" stroke-width="0.6"/>
<line x1="448.00" x2="448.00" y1="83.0" y2="107.5" stroke="#222" stroke-width="0.5"/>
<rect x="446.95" y="89.0" width="2.1" height="11.6" fill="#0c0c0c"/>
<line x1="450.30" x2="450.30" y1="79.0" y2="105.6" stroke="#555" stroke-width="0.5"/>
<rect x="449.38" y="82.2" width="1.84" height="18.1" fill="#c8c8c8" stroke="#4c4c4c" stroke-width="0.6"/>
<line x1="452.90" x2="452.90" y1="59.8" y2="95.0" stroke="#555" stroke-width="0.5"/>
<rect x="451.98" y="69.2" width="1.84" height="12.5" fill="#c8c8c8" stroke="#4c4c4c" stroke-width="0.6"/>
<line x1="455.70" x2="455.70" y1="52.2" y2="79.8" stroke="#555" stroke-width="0.5"/>
<rect x="454.78" y="56.9" width="1.84" height="11.9" fill="#c8c8c8" stroke="#4c4c4c" stroke-width="0.6"/>
</g>
<rect x="483.0" y="13.2" width="25" height="10.4" rx="1" fill="#fff" stroke="#eef0f3" stroke-width="0.5"/>
<text x="486.7" y="20.2" font-size="4.75" fill="#131722">USD</text>
<text x="485.6" y="354.30" font-size="5.0" fill="#131722" textLength="19.9" lengthAdjust="spacingAndGlyphs">48.00000</text>
<text x="485.6" y="340.20" font-size="5.0" fill="#131722" textLength="19.9" lengthAdjust="spacingAndGlyphs">48.50000</text>
<text x="485.6" y="326.10" font-size="5.0" fill="#131722" textLength="19.9" lengthAdjust="spacingAndGlyphs">49.00000</text>
<text x="485.6" y="312.00" font-size="5.0" fill="#131722" textLength="19.9" lengthAdjust="spacingAndGlyphs">49.50000</text>
<text x="485.6" y="297.90" font-size="5.0" fill="#131722" textLength="19.9" lengthAdjust="spacingAndGlyphs">50.00000</text>
<text x="485.6" y="283.80" font-size="5.0" fill="#131722" textLength="19.9" lengthAdjust="spacingAndGlyphs">50.50000</text>
<text x="485.6" y="269.70" font-size="5.0" fill="#131722" textLength="19.9" lengthAdjust="spacingAndGlyphs">51.00000</text>
<text x="485.6" y="255.60" font-size="5.0" fill="#131722" textLength="19.9" lengthAdjust="spacingAndGlyphs">51.50000</text>
<text x="485.6" y="241.50" font-size="5.0" fill="#131722" textLength="19.9" lengthAdjust="spacingAndGlyphs">52.00000</text>
<text x="485.6" y="227.40" font-size="5.0" fill="#131722" textLength="19.9" lengthAdjust="spacingAndGlyphs">52.50000</text>
<text x="485.6" y="213.30" font-size="5.0" fill="#131722" textLength="19.9" lengthAdjust="spacingAndGlyphs">53.00000</text>
<text x="485.6" y="199.20" font-size="5.0" fill="#131722" textLength="19.9" lengthAdjust="spacingAndGlyphs">53.50000</text>
<text x="485.6" y="185.10" font-size="5.0" fill="#131722" textLength="19.9" lengthAdjust="spacingAndGlyphs">54.00000</text>
<text x="485.6" y="171.00" font-size="5.0" fill="#131722" textLength="19.9" lengthAdjust="spacingAndGlyphs">54.50000</text>
<text x="485.6" y="156.90" font-size="5.0" fill="#131722" textLength="19.9" lengthAdjust="spacingAndGlyphs">55.00000</text>
<text x="485.6" y="142.80" font-size="5.0" fill="#131722" textLength="19.9" lengthAdjust="spacingAndGlyphs">55.50000</text>
<text x="485.6" y="128.70" font-size="5.0" fill="#131722" textLength="19.9" lengthAdjust="spacingAndGlyphs">56.00000</text>
<text x="485.6" y="114.60" font-size="5.0" fill="#131722" textLength="19.9" lengthAdjust="spacingAndGlyphs">56.50000</text>
<text x="485.6" y="100.50" font-size="5.0" fill="#131722" textLength="19.9" lengthAdjust="spacingAndGlyphs">57.00000</text>
<text x="485.6" y="86.40" font-size="5.0" fill="#131722" textLength="19.9" lengthAdjust="spacingAndGlyphs">57.50000</text>
<text x="485.6" y="72.30" font-size="5.0" fill="#131722" textLength="19.9" lengthAdjust="spacingAndGlyphs">58.00000</text>
<text x="485.6" y="58.20" font-size="5.0" fill="#131722" textLength="19.9" lengthAdjust="spacingAndGlyphs">58.50000</text>
<text x="485.6" y="44.10" font-size="5.0" fill="#131722" textLength="19.9" lengthAdjust="spacingAndGlyphs">59.00000</text>
<text x="485.6" y="30.00" font-size="5.0" fill="#131722" textLength="19.9" lengthAdjust="spacingAndGlyphs">59.50000</text>
<rect x="481.8" y="53.10" width="25.7" height="6.90" fill="#d5d8df"/>
<text x="485.2" y="58.45" font-size="5.3" font-weight="normal" fill="#131722" textLength="20.5" lengthAdjust="spacingAndGlyphs">58.50035</text>
<rect x="481.8" y="173.20" width="25.7" height="6.80" fill="#9c27b0"/>
<text x="485.2" y="178.50" font-size="5.3" font-weight="bold" fill="#fff" textLength="20.5" lengthAdjust="spacingAndGlyphs">54.24215</text>
<rect x="481.8" y="182.50" width="25.7" height="7.00" fill="#9c27b0"/>
<text x="485.2" y="187.90" font-size="5.3" font-weight="bold" fill="#fff" textLength="20.5" lengthAdjust="spacingAndGlyphs">53.92100</text>
<rect x="481.8" y="197.50" width="25.7" height="6.80" fill="#9c27b0"/>
<text x="485.2" y="202.80" font-size="5.3" font-weight="bold" fill="#fff" textLength="20.5" lengthAdjust="spacingAndGlyphs">53.39385</text>
<rect x="481.8" y="223.50" width="25.7" height="7.00" fill="#9c27b0"/>
<text x="485.2" y="228.90" font-size="5.3" font-weight="bold" fill="#fff" textLength="20.5" lengthAdjust="spacingAndGlyphs">52.46815</text>
<rect x="481.8" y="258.20" width="25.7" height="6.80" fill="#9c27b0"/>
<text x="485.2" y="263.50" font-size="5.3" font-weight="bold" fill="#fff" textLength="20.5" lengthAdjust="spacingAndGlyphs">51.24250</text>
<rect x="481.8" y="265.00" width="25.7" height="7.00" fill="#9c27b0"/>
<text x="485.2" y="270.40" font-size="5.3" font-weight="bold" fill="#fff" textLength="20.5" lengthAdjust="spacingAndGlyphs">51.16220</text>
<rect x="481.8" y="327.00" width="25.7" height="6.80" fill="#9c27b0"/>
<text x="485.2" y="332.30" font-size="5.3" font-weight="bold" fill="#fff" textLength="20.5" lengthAdjust="spacingAndGlyphs">48.79705</text>
<rect x="481.8" y="336.00" width="25.7" height="6.80" fill="#9c27b0"/>
<text x="485.2" y="341.30" font-size="5.3" font-weight="bold" fill="#fff" textLength="20.5" lengthAdjust="spacingAndGlyphs">48.48885</text>
<rect x="481.8" y="342.80" width="25.7" height="6.80" fill="#9c27b0"/>
<text x="485.2" y="348.10" font-size="5.3" font-weight="bold" fill="#fff" textLength="20.5" lengthAdjust="spacingAndGlyphs">48.37545</text>
<text x="277.5" y="370.6" font-size="4.75" fill="#131722" text-anchor="middle">16</text>
<text x="312.5" y="370.6" font-size="4.75" fill="#131722" text-anchor="middle">19</text>
<text x="342.5" y="370.6" font-size="4.75" fill="#131722" text-anchor="middle">21</text>
<text x="372.3" y="370.6" font-size="4.75" fill="#131722" text-anchor="middle">25</text>
<text x="402.3" y="370.6" font-size="4.75" fill="#131722" text-anchor="middle">27</text>
<text x="432.5" y="370.6" font-size="4.75" fill="#131722" text-anchor="middle" font-weight="bold">Dec</text>
<text x="462.8" y="370.6" font-size="4.75" fill="#131722" text-anchor="middle">3</text>
<rect x="511.79999999999995" y="11.0" width="252.20000000000005" height="363.5" fill="#fff" stroke="#eaecf0" stroke-width="0.6"/>
<clipPath id="c3"><rect x="512.3" y="11.5" width="222.8" height="351.5"/></clipPath>
<line x1="512.3" x2="735.8" y1="360.58" y2="360.58" stroke="#f2f3f6" stroke-width="0.5"/>
<line x1="512.3" x2="735.8" y1="347.41" y2="347.41" stroke="#f2f3f6" stroke-width="0.5"/>
<line x1="512.3" x2="735.8" y1="334.24" y2="334.24" stroke="#f2f3f6" stroke-width="0.5"/>
<line x1="512.3" x2="735.8" y1="321.07" y2="321.07" stroke="#f2f3f6" stroke-width="0.5"/>
<line x1="512.3" x2="735.8" y1="307.90" y2="307.90" stroke="#f2f3f6" stroke-width="0.5"/>
<line x1="512.3" x2="735.8" y1="294.73" y2="294.73" stroke="#f2f3f6" stroke-width="0.5"/>
<line x1="512.3" x2="735.8" y1="281.56" y2="281.56" stroke="#f2f3f6" stroke-width="0.5"/>
<line x1="512.3" x2="735.8" y1="268.39" y2="268.39" stroke="#f2f3f6" stroke-width="0.5"/>
<line x1="512.3" x2="735.8" y1="255.22" y2="255.22" stroke="#f2f3f6" stroke-width="0.5"/>
<line x1="512.3" x2="735.8" y1="242.05" y2="242.05" stroke="#f2f3f6" stroke-width="0.5"/>
<line x1="512.3" x2="735.8" y1="228.88" y2="228.88" stroke="#f2f3f6" stroke-width="0.5"/>
<line x1="512.3" x2="735.8" y1="215.71" y2="215.71" stroke="#f2f3f6" stroke-width="0.5"/>
<line x1="512.3" x2="735.8" y1="202.54" y2="202.54" stroke="#f2f3f6" stroke-width="0.5"/>
<line x1="512.3" x2="735.8" y1="189.37" y2="189.37" stroke="#f2f3f6" stroke-width="0.5"/>
<line x1="512.3" x2="735.8" y1="176.20" y2="176.20" stroke="#f2f3f6" stroke-width="0.5"/>
<line x1="512.3" x2="735.8" y1="163.03" y2="163.03" stroke="#f2f3f6" stroke-width="0.5"/>
<line x1="512.3" x2="735.8" y1="149.86" y2="149.86" stroke="#f2f3f6" stroke-width="0.5"/>
<line x1="512.3" x2="735.8" y1="136.69" y2="136.69" stroke="#f2f3f6" stroke-width="0.5"/>
<line x1="512.3" x2="735.8" y1="123.52" y2="123.52" stroke="#f2f3f6" stroke-width="0.5"/>
<line x1="512.3" x2="735.8" y1="110.35" y2="110.35" stroke="#f2f3f6" stroke-width="0.5"/>
<line x1="512.3" x2="735.8" y1="97.18" y2="97.18" stroke="#f2f3f6" stroke-width="0.5"/>
<line x1="512.3" x2="735.8" y1="84.01" y2="84.01" stroke="#f2f3f6" stroke-width="0.5"/>
<line x1="512.3" x2="735.8" y1="70.84" y2="70.84" stroke="#f2f3f6" stroke-width="0.5"/>
<line x1="512.3" x2="735.8" y1="57.67" y2="57.67" stroke="#f2f3f6" stroke-width="0.5"/>
<line x1="512.3" x2="735.8" y1="44.50" y2="44.50" stroke="#f2f3f6" stroke-width="0.5"/>
<line x1="512.3" x2="735.8" y1="31.33" y2="31.33" stroke="#f2f3f6" stroke-width="0.5"/>
<line x1="544.3" x2="544.3" y1="11.5" y2="363" stroke="#f2f3f6" stroke-width="0.5"/>
<line x1="599.3" x2="599.3" y1="11.5" y2="363" stroke="#f2f3f6" stroke-width="0.5"/>
<line x1="656.5" x2="656.5" y1="11.5" y2="363" stroke="#f2f3f6" stroke-width="0.5"/>
<line x1="706.5" x2="706.5" y1="11.5" y2="363" stroke="#f2f3f6" stroke-width="0.5"/>
<text x="515.30" y="19.3" font-size="4.9" fill="#131722" textLength="72.5" lengthAdjust="spacingAndGlyphs">Silver / U.S. Dollar · 1D · OANDA</text>
<text x="591.60" y="19.3" font-size="4.9" fill="#131722" textLength="23.2" lengthAdjust="spacingAndGlyphs">O57.92270</text>
<text x="617.90" y="19.3" font-size="4.9" fill="#131722" textLength="23.2" lengthAdjust="spacingAndGlyphs">H58.64940</text>
<text x="644.60" y="19.3" font-size="4.9" fill="#131722" textLength="23.2" lengthAdjust="spacingAndGlyphs">L56.58605</text>
<text x="670.30" y="19.3" font-size="4.9" fill="#131722" textLength="28.0" lengthAdjust="spacingAndGlyphs">C58.50035...</text>
<g clip-path="url(#c3)">
<line x1="512.3" x2="735.8" y1="51.08" y2="51.08" stroke="#f2f3f6" stroke-width="0.5"/>
<line x1="512.3" x2="735.8" y1="107.16" y2="107.16" stroke="#ad50bf" stroke-width="0.95"/>
<line x1="512.3" x2="735.8" y1="111.39" y2="111.39" stroke="#ad50bf" stroke-width="0.95"/>
<line x1="512.3" x2="735.8" y1="118.33" y2="118.33" stroke="#ad50bf" stroke-width="0.95"/>
<line x1="512.3" x2="735.8" y1="130.52" y2="130.52" stroke="#ad50bf" stroke-width="0.95"/>
<line x1="512.3" x2="735.8" y1="146.67" y2="146.67" stroke="#ad50bf" stroke-width="0.95"/>
<line x1="512.3" x2="735.8" y1="147.72" y2="147.72" stroke="#ad50bf" stroke-width="0.95"/>
<line x1="512.3" x2="735.8" y1="178.87" y2="178.87" stroke="#ad50bf" stroke-width="0.95"/>
<line x1="512.3" x2="735.8" y1="182.93" y2="182.93" stroke="#ad50bf" stroke-width="0.95"/>
<line x1="512.3" x2="735.8" y1="184.43" y2="184.43" stroke="#ad50bf" stroke-width="0.95"/>
<line x1="512.3" x2="735.8" y1="216.39" y2="216.39" stroke="#ad50bf" stroke-width="0.95"/>
<line x1="512.3" x2="735.8" y1="218.14" y2="218.14" stroke="#ad50bf" stroke-width="0.95"/>
<line x1="512.3" x2="735.8" y1="225.91" y2="225.91" stroke="#ad50bf" stroke-width="0.95"/>
<line x1="512.3" x2="735.8" y1="227.82" y2="227.82" stroke="#ad50bf" stroke-width="0.95"/>
<line x1="512.3" x2="735.8" y1="237.80" y2="237.80" stroke="#ad50bf" stroke-width="0.95"/>
<line x1="512.3" x2="735.8" y1="255.59" y2="255.59" stroke="#ad50bf" stroke-width="0.95"/>
<line x1="512.3" x2="735.8" y1="264.94" y2="264.94" stroke="#ad50bf" stroke-width="0.95"/>
<line x1="512.3" x2="735.8" y1="271.47" y2="271.47" stroke="#ad50bf" stroke-width="0.95"/>
<line x1="512.3" x2="735.8" y1="281.85" y2="281.85" stroke="#ad50bf" stroke-width="0.95"/>
<line x1="512.3" x2="735.8" y1="282.45" y2="282.45" stroke="#ad50bf" stroke-width="0.95"/>
<line x1="512.3" x2="735.8" y1="292.23" y2="292.23" stroke="#ad50bf" stroke-width="0.95"/>
<line x1="512.3" x2="735.8" y1="300.95" y2="300.95" stroke="#ad50bf" stroke-width="0.95"/>
<line x1="512.3" x2="735.8" y1="304.99" y2="304.99" stroke="#ad50bf" stroke-width="0.95"/>
<line x1="512.3" x2="735.8" y1="306.15" y2="306.15" stroke="#ad50bf" stroke-width="0.95"/>
<line x1="512.3" x2="735.8" y1="307.05" y2="307.05" stroke="#ad50bf" stroke-width="0.95"/>
<line x1="512.3" x2="735.8" y1="311.35" y2="311.35" stroke="#ad50bf" stroke-width="0.95"/>
<line x1="512.3" x2="735.8" y1="311.92" y2="311.92" stroke="#ad50bf" stroke-width="0.95"/>
<line x1="512.3" x2="735.8" y1="319.02" y2="319.02" stroke="#ad50bf" stroke-width="0.95"/>
<line x1="512.3" x2="735.8" y1="321.42" y2="321.42" stroke="#ad50bf" stroke-width="0.95"/>
<line x1="512.3" x2="735.8" y1="327.64" y2="327.64" stroke="#ad50bf" stroke-width="0.95"/>
<line x1="512.3" x2="735.8" y1="336.40" y2="336.40" stroke="#ad50bf" stroke-width="0.95"/>
<line x1="512.3" x2="735.8" y1="343.90" y2="343.90" stroke="#ad50bf" stroke-width="0.95"/>
<line x1="512.3" x2="735.8" y1="345.60" y2="345.60" stroke="#ad50bf" stroke-width="0.95"/>
<line x1="512.3" x2="735.8" y1="354.40" y2="354.40" stroke="#ad50bf" stroke-width="0.95"/>
<line x1="512.3" x2="735.8" y1="362.20" y2="362.20" stroke="#ad50bf" stroke-width="0.95"/>
<line x1="512.25" y1="126.25" x2="735.75" y2="95.5" stroke="#4caf50" stroke-width="1.7"/>
<line x1="512.25" y1="132" x2="735.75" y2="101.75" stroke="#4caf50" stroke-width="1.7"/>
<line x1="512.25" y1="246.5" x2="735.75" y2="215.5" stroke="#4caf50" stroke-width="1.7"/>
<line x1="512.25" y1="275" x2="735.75" y2="245" stroke="#4caf50" stroke-width="1.7"/>
<line x1="512.25" y1="293.75" x2="735.75" y2="263.75" stroke="#4caf50" stroke-width="1.7"/>
<line x1="512.25" y1="299.5" x2="735.75" y2="268.9" stroke="#4caf50" stroke-width="1.7"/>
<line x1="512.25" y1="313.6" x2="735.75" y2="282.0" stroke="#4caf50" stroke-width="1.7"/>
<line x1="512.25" y1="318.2" x2="735.75" y2="287.6" stroke="#4caf50" stroke-width="1.7"/>
<line x1="512.25" y1="336.25" x2="735.75" y2="305.75" stroke="#4caf50" stroke-width="1.7"/>
<line x1="513.90" x2="513.90" y1="312.0" y2="323.0" stroke="#222" stroke-width="0.5"/>
<rect x="512.85" y="313.8" width="2.1" height="7.5" fill="#0c0c0c"/>
<line x1="516.60" x2="516.60" y1="318.8" y2="325.0" stroke="#555" stroke-width="0.5"/>
<rect x="515.68" y="319.8" width="1.84" height="0.3" fill="#c8c8c8" stroke="#4c4c4c" stroke-width="0.6"/>
<line x1="519.20" x2="519.20" y1="318.0" y2="322.0" stroke="#555" stroke-width="0.5"/>
<rect x="518.28" y="319.6" width="1.84" height="1.1" fill="#c8c8c8" stroke="#4c4c4c" stroke-width="0.6"/>
<line x1="521.70" x2="521.70" y1="319.0" y2="330.0" stroke="#222" stroke-width="0.5"/>
<rect x="520.65" y="320.0" width="2.1" height="9.4" fill="#0c0c0c"/>
<line x1="524.20" x2="524.20" y1="322.0" y2="334.4" stroke="#555" stroke-width="0.5"/>
<rect x="523.28" y="323.2" width="1.84" height="5.2" fill="#c8c8c8" stroke="#4c4c4c" stroke-width="0.6"/>
<line x1="526.70" x2="526.70" y1="318.0" y2="326.5" stroke="#555" stroke-width="0.5"/>
<rect x="525.78" y="319.0" width="1.84" height="6.4" fill="#c8c8c8" stroke="#4c4c4c" stroke-width="0.6"/>
<line x1="529.20" x2="529.20" y1="307.5" y2="324.4" stroke="#555" stroke-width="0.5"/>
<rect x="528.28" y="309.6" width="1.84" height="9.5" fill="#c8c8c8" stroke="#4c4c4c" stroke-width="0.6"/>
<line x1="531.70" x2="531.70" y1="308.0" y2="314.0" stroke="#222" stroke-width="0.5"/>
<rect x="530.65" y="309.4" width="2.1" height="3.6" fill="#0c0c0c"/>
<line x1="534.10" x2="534.10" y1="311.0" y2="315.0" stroke="#555" stroke-width="0.5"/>
<rect x="533.18" y="312.1" width="1.84" height="1.4" fill="#c8c8c8" stroke="#4c4c4c" stroke-width="0.6"/>
<line x1="536.70" x2="536.70" y1="311.0" y2="319.4" stroke="#222" stroke-width="0.5"/>
<rect x="535.65" y="311.9" width="2.1" height="1.9" fill="#0c0c0c"/>
<line x1="539.20" x2="539.20" y1="306.5" y2="313.5" stroke="#555" stroke-width="0.5"/>
<rect x="538.28" y="307.8" width="1.84" height="5.0" fill="#c8c8c8" stroke="#4c4c4c" stroke-width="0.6"/>
<line x1="541.60" x2="541.60" y1="295.6" y2="309.0" stroke="#555" stroke-width="0.5"/>
<rect x="540.68" y="299.0" width="1.84" height="8.8" fill="#c8c8c8" stroke="#4c4c4c" stroke-width="0.6"/>
<line x1="544.20" x2="544.20" y1="284.0" y2="299.5" stroke="#555" stroke-width="0.5"/>
<rect x="543.28" y="285.2" width="1.84" height="13.2" fill="#c8c8c8" stroke="#4c4c4c" stroke-width="0.6"/>
<line x1="546.70" x2="546.70" y1="281.0" y2="286.5" stroke="#555" stroke-width="0.5"/>
<rect x="545.78" y="282.1" width="1.84" height="3.2" fill="#c8c8c8" stroke="#4c4c4c" stroke-width="0.6"/>
<line x1="549.20" x2="549.20" y1="275.0" y2="283.0" stroke="#555" stroke-width="0.5"/>
<rect x="548.28" y="278.2" width="1.84" height="4.0" fill="#c8c8c8" stroke="#4c4c4c" stroke-width="0.6"/>
<line x1="551.70" x2="551.70" y1="278.5" y2="288.0" stroke="#222" stroke-width="0.5"/>
<rect x="550.65" y="279.4" width="2.1" height="6.2" fill="#0c0c0c"/>
<line x1="554.20" x2="554.20" y1="281.0" y2="287.0" stroke="#555" stroke-width="0.5"/>
<rect x="553.28" y="282.1" width="1.84" height="3.9" fill="#c8c8c8" stroke="#4c4c4c" stroke-width="0.6"/>
<line x1="556.50" x2="556.50" y1="273.0" y2="287.5" stroke="#555" stroke-width="0.5"/>
<rect x="555.58" y="277.1" width="1.84" height="5.1" fill="#c8c8c8" stroke="#4c4c4c" stroke-width="0.6"/>
<line x1="559.20" x2="559.20" y1="275.0" y2="283.5" stroke="#222" stroke-width="0.5"/>
<rect x="558.15" y="276.9" width="2.1" height="5.6" fill="#0c0c0c"/>
<line x1="561.70" x2="561.70" y1="278.5" y2="285.0" stroke="#555" stroke-width="0.5"/>
<rect x="560.78" y="279.6" width="1.84" height="4.5" fill="#c8c8c8" stroke="#4c4c4c" stroke-width="0.6"/>
<line x1="564.20" x2="564.20" y1="273.0" y2="282.0" stroke="#555" stroke-width="0.5"/>
<rect x="563.28" y="274.0" width="1.84" height="5.8" fill="#c8c8c8" stroke="#4c4c4c" stroke-width="0.6"/>
<line x1="566.70" x2="566.70" y1="261.9" y2="275.0" stroke="#555" stroke-width="0.5"/>
<rect x="565.78" y="267.1" width="1.84" height="7.0" fill="#c8c8c8" stroke="#4c4c4c" stroke-width="0.6"/>
<line x1="569.20" x2="569.20" y1="258.5" y2="267.5" stroke="#555" stroke-width="0.5"/>
<rect x="568.28" y="259.6" width="1.84" height="7.0" fill="#c8c8c8" stroke="#4c4c4c" stroke-width="0.6"/>
<line x1="571.70" x2="571.70" y1="255.6" y2="264.4" stroke="#555" stroke-width="0.5"/>
<rect x="570.78" y="260.2" width="1.84" height="0.8" fill="#c8c8c8" stroke="#4c4c4c" stroke-width="0.6"/>
<line x1="574.20" x2="574.20" y1="259.5" y2="279.4" stroke="#222" stroke-width="0.5"/>
<rect x="573.15" y="260.6" width="2.1" height="11.9" fill="#0c0c0c"/>
<line x1="576.70" x2="576.70" y1="269.0" y2="278.8" stroke="#555" stroke-width="0.5"/>
<rect x="575.78" y="270.2" width="1.84" height="2.5" fill="#c8c8c8" stroke="#4c4c4c" stroke-width="0.6"/>
<line x1="579.20" x2="579.20" y1="253.0" y2="272.5" stroke="#555" stroke-width="0.5"/>
<rect x="578.28" y="254.0" width="1.84" height="17.6" fill="#c8c8c8" stroke="#4c4c4c" stroke-width="0.6"/>
<line x1="581.70" x2="581.70" y1="240.0" y2="254.5" stroke="#555" stroke-width="0.5"/>
<rect x="580.78" y="241.2" width="1.84" height="12.2" fill="#c8c8c8" stroke="#4c4c4c" stroke-width="0.6"/>
<line x1="584.20" x2="584.20" y1="238.0" y2="244.0" stroke="#555" stroke-width="0.5"/>
<rect x="583.28" y="240.2" width="1.84" height="2.0" fill="#c8c8c8" stroke="#4c4c4c" stroke-width="0.6"/>
<line x1="586.70" x2="586.70" y1="236.0" y2="245.0" stroke="#222" stroke-width="0.5"/>
<rect x="585.65" y="239.0" width="2.1" height="5.0" fill="#0c0c0c"/>
<line x1="589.20" x2="589.20" y1="225.0" y2="243.0" stroke="#555" stroke-width="0.5"/>
<rect x="588.28" y="226.2" width="1.84" height="16.0" fill="#c8c8c8" stroke="#4c4c4c" stroke-width="0.6"/>
<line x1="591.70" x2="591.70" y1="214.0" y2="227.0" stroke="#555" stroke-width="0.5"/>
<rect x="590.78" y="215.2" width="1.84" height="10.5" fill="#c8c8c8" stroke="#4c4c4c" stroke-width="0.6"/>
<line x1="594.20" x2="594.20" y1="203.0" y2="217.0" stroke="#555" stroke-width="0.5"/>
<rect x="593.28" y="204.2" width="1.84" height="11.5" fill="#c8c8c8" stroke="#4c4c4c" stroke-width="0.6"/>
<line x1="596.70" x2="596.70" y1="203.0" y2="217.5" stroke="#222" stroke-width="0.5"/>
<rect x="595.65" y="204.0" width="2.1" height="5.0" fill="#0c0c0c"/>
<line x1="599.20" x2="599.20" y1="192.5" y2="206.0" stroke="#555" stroke-width="0.5"/>
<rect x="598.28" y="199.2" width="1.84" height="5.5" fill="#c8c8c8" stroke="#4c4c4c" stroke-width="0.6"/>
<line x1="601.70" x2="601.70" y1="189.0" y2="216.0" stroke="#222" stroke-width="0.5"/>
<rect x="600.65" y="197.5" width="2.1" height="6.5" fill="#0c0c0c"/>
<line x1="604.20" x2="604.20" y1="188.0" y2="205.0" stroke="#555" stroke-width="0.5"/>
<rect x="603.28" y="189.2" width="1.84" height="14.5" fill="#c8c8c8" stroke="#4c4c4c" stroke-width="0.6"/>
<line x1="606.70" x2="606.70" y1="181.0" y2="191.0" stroke="#555" stroke-width="0.5"/>
<rect x="605.78" y="182.8" width="1.84" height="7.0" fill="#c8c8c8" stroke="#4c4c4c" stroke-width="0.6"/>
<line x1="609.20" x2="609.20" y1="181.0" y2="197.5" stroke="#222" stroke-width="0.5"/>
<rect x="608.15" y="182.5" width="2.1" height="8.5" fill="#0c0c0c"/>
<line x1="611.70" x2="611.70" y1="179.0" y2="192.0" stroke="#555" stroke-width="0.5"/>
<rect x="610.78" y="180.2" width="1.84" height="10.5" fill="#c8c8c8" stroke="#4c4c4c" stroke-width="0.6"/>
<line x1="614.20" x2="614.20" y1="169.0" y2="181.0" stroke="#555" stroke-width="0.5"/>
<rect x="613.28" y="170.2" width="1.84" height="9.5" fill="#c8c8c8" stroke="#4c4c4c" stroke-width="0.6"/>
<line x1="616.70" x2="616.70" y1="146.0" y2="172.5" stroke="#555" stroke-width="0.5"/>
<rect x="615.78" y="147.8" width="1.84" height="22.0" fill="#c8c8c8" stroke="#4c4c4c" stroke-width="0.6"/>
<line x1="619.20" x2="619.20" y1="131.0" y2="156.0" stroke="#555" stroke-width="0.5"/>
<rect x="618.28" y="132.8" width="1.84" height="16.0" fill="#c8c8c8" stroke="#4c4c4c" stroke-width="0.6"/>
<line x1="621.70" x2="621.70" y1="131.0" y2="145.0" stroke="#222" stroke-width="0.5"/>
<rect x="620.65" y="132.5" width="2.1" height="11.5" fill="#0c0c0c"/>
<line x1="624.20" x2="624.20" y1="118.0" y2="145.0" stroke="#555" stroke-width="0.5"/>
<rect x="623.28" y="119.2" width="1.84" height="24.5" fill="#c8c8c8" stroke="#4c4c4c" stroke-width="0.6"/>
<line x1="626.70" x2="626.70" y1="108.0" y2="124.0" stroke="#555" stroke-width="0.5"/>
<rect x="625.78" y="109.2" width="1.84" height="13.0" fill="#c8c8c8" stroke="#4c4c4c" stroke-width="0.6"/>
<line x1="629.20" x2="629.20" y1="104.5" y2="154.0" stroke="#222" stroke-width="0.5"/>
<rect x="628.15" y="109.0" width="2.1" height="28.5" fill="#0c0c0c"/>
<line x1="631.70" x2="631.70" y1="126.0" y2="140.0" stroke="#222" stroke-width="0.5"/>
<rect x="630.65" y="127.5" width="2.1" height="11.5" fill="#0c0c0c"/>
<line x1="634.20" x2="634.20" y1="129.0" y2="186.0" stroke="#222" stroke-width="0.5"/>
<rect x="633.15" y="130.0" width="2.1" height="50.0" fill="#0c0c0c"/>
<line x1="636.70" x2="636.70" y1="172.0" y2="194.0" stroke="#555" stroke-width="0.5"/>
<rect x="635.78" y="177.8" width="1.84" height="4.5" fill="#c8c8c8" stroke="#4c4c4c" stroke-width="0.6"/>
<line x1="639.20" x2="639.20" y1="172.5" y2="186.0" stroke="#555" stroke-width="0.5"/>
<rect x="638.28" y="177.8" width="1.84" height="3.0" fill="#c8c8c8" stroke="#4c4c4c" stroke-width="0.6"/>
<line x1="641.70" x2="641.70" y1="176.0" y2="184.0" stroke="#222" stroke-width="0.5"/>
<rect x="640.65" y="177.5" width="2.1" height="5.0" fill="#0c0c0c"/>
<line x1="644.20" x2="644.20" y1="180.0" y2="221.0" stroke="#222" stroke-width="0.5"/>
<rect x="643.15" y="181.0" width="2.1" height="23.0" fill="#0c0c0c"/>
<line x1="646.70" x2="646.70" y1="200.0" y2="212.5" stroke="#555" stroke-width="0.5"/>
<rect x="645.78" y="201.2" width="1.84" height="2.5" fill="#c8c8c8" stroke="#4c4c4c" stroke-width="0.6"/>
<line x1="649.20" x2="649.20" y1="194.0" y2="204.0" stroke="#555" stroke-width="0.5"/>
<rect x="648.28" y="195.2" width="1.84" height="7.0" fill="#c8c8c8" stroke="#4c4c4c" stroke-width="0.6"/>
<line x1="651.70" x2="651.70" y1="178.0" y2="196.0" stroke="#555" stroke-width="0.5"/>
<rect x="650.78" y="179.2" width="1.84" height="15.5" fill="#c8c8c8" stroke="#4c4c4c" stroke-width="0.6"/>
<line x1="654.20" x2="654.20" y1="172.0" y2="183.0" stroke="#222" stroke-width="0.5"/>
<rect x="653.15" y="179.0" width="2.1" height="2.5" fill="#0c0c0c"/>
<line x1="656.70" x2="656.70" y1="179.0" y2="190.0" stroke="#222" stroke-width="0.5"/>
<rect x="655.65" y="180.0" width="2.1" height="9.0" fill="#0c0c0c"/>
<line x1="659.20" x2="659.20" y1="188.0" y2="203.0" stroke="#222" stroke-width="0.5"/>
<rect x="658.15" y="189.0" width="2.1" height="12.0" fill="#0c0c0c"/>
<line x1="661.70" x2="661.70" y1="188.0" y2="204.0" stroke="#555" stroke-width="0.5"/>
<rect x="660.78" y="189.2" width="1.84" height="11.5" fill="#c8c8c8" stroke="#4c4c4c" stroke-width="0.6"/>
<line x1="664.20" x2="664.20" y1="185.0" y2="193.0" stroke="#555" stroke-width="0.5"/>
<rect x="663.28" y="186.2" width="1.84" height="4.5" fill="#c8c8c8" stroke="#4c4c4c" stroke-width="0.6"/>
<line x1="666.70" x2="666.70" y1="179.0" y2="190.0" stroke="#555" stroke-width="0.5"/>
<rect x="665.78" y="180.2" width="1.84" height="8.5" fill="#c8c8c8" stroke="#4c4c4c" stroke-width="0.6"/>
<line x1="669.20" x2="669.20" y1="155.0" y2="185.0" stroke="#555" stroke-width="0.5"/>
<rect x="668.28" y="156.2" width="1.84" height="27.5" fill="#c8c8c8" stroke="#4c4c4c" stroke-width="0.6"/>
<line x1="671.70" x2="671.70" y1="146.0" y2="162.0" stroke="#555" stroke-width="0.5"/>
<rect x="670.78" y="147.8" width="1.84" height="8.0" fill="#c8c8c8" stroke="#4c4c4c" stroke-width="0.6"/>
<line x1="674.20" x2="674.20" y1="119.0" y2="148.0" stroke="#555" stroke-width="0.5"/>
<rect x="673.28" y="120.2" width="1.84" height="27.0" fill="#c8c8c8" stroke="#4c4c4c" stroke-width="0.6"/>
<line x1="676.70" x2="676.70" y1="105.0" y2="133.0" stroke="#222" stroke-width="0.5"/>
<rect x="675.65" y="120.0" width="2.1" height="12.5" fill="#0c0c0c"/>
<line x1="679.20" x2="679.20" y1="131.0" y2="162.5" stroke="#222" stroke-width="0.5"/>
<rect x="678.15" y="132.5" width="2.1" height="23.5" fill="#0c0c0c"/>
<line x1="681.70" x2="681.70" y1="155.0" y2="169.0" stroke="#222" stroke-width="0.5"/>
<rect x="680.65" y="156.0" width="2.1" height="4.0" fill="#0c0c0c"/>
<line x1="684.20" x2="684.20" y1="152.0" y2="171.0" stroke="#555" stroke-width="0.5"/>
<rect x="683.28" y="154.2" width="1.84" height="5.5" fill="#c8c8c8" stroke="#4c4c4c" stroke-width="0.6"/>
<line x1="686.70" x2="686.70" y1="131.0" y2="156.0" stroke="#555" stroke-width="0.5"/>
<rect x="685.78" y="146.2" width="1.84" height="7.5" fill="#c8c8c8" stroke="#4c4c4c" stroke-width="0.6"/>
<line x1="689.20" x2="689.20" y1="139.0" y2="156.0" stroke="#222" stroke-width="0.5"/>
<rect x="688.15" y="142.5" width="2.1" height="12.5" fill="#0c0c0c"/>
<line x1="691.70" x2="691.70" y1="153.0" y2="180.0" stroke="#222" stroke-width="0.5"/>
<rect x="690.65" y="154.0" width="2.1" height="8.5" fill="#0c0c0c"/>
<line x1="694.20" x2="694.20" y1="145.0" y2="164.0" stroke="#555" stroke-width="0.5"/>
<rect x="693.28" y="146.2" width="1.84" height="16.0" fill="#c8c8c8" stroke="#4c4c4c" stroke-width="0.6"/>
<line x1="696.70" x2="696.70" y1="142.0" y2="148.0" stroke="#555" stroke-width="0.5"/>
<rect x="695.78" y="144.2" width="1.84" height="1.5" fill="#c8c8c8" stroke="#4c4c4c" stroke-width="0.6"/>
<line x1="699.80" x2="699.80" y1="117.0" y2="145.0" stroke="#555" stroke-width="0.5"/>
<rect x="698.88" y="117.8" width="1.84" height="26.0" fill="#c8c8c8" stroke="#4c4c4c" stroke-width="0.6"/>
<line x1="702.00" x2="702.00" y1="116.0" y2="121.0" stroke="#555" stroke-width="0.5"/>
<rect x="701.08" y="117.8" width="1.84" height="2.0" fill="#c8c8c8" stroke="#4c4c4c" stroke-width="0.6"/>
<line x1="704.60" x2="704.60" y1="75.0" y2="118.0" stroke="#555" stroke-width="0.5"/>
<rect x="703.68" y="79.0" width="1.84" height="38.2" fill="#c8c8c8" stroke="#4c4c4c" stroke-width="0.6"/>
<line x1="707.20" x2="707.20" y1="46.2" y2="80.0" stroke="#555" stroke-width="0.5"/>
<rect x="706.28" y="57.8" width="1.84" height="15.8" fill="#c8c8c8" stroke="#4c4c4c" stroke-width="0.6"/>
<line x1="709.60" x2="709.60" y1="48.8" y2="76.2" stroke="#555" stroke-width="0.5"/>
<rect x="708.68" y="51.5" width="1.84" height="7.0" fill="#c8c8c8" stroke="#4c4c4c" stroke-width="0.6"/>
</g>
<rect x="737.3" y="13.2" width="25" height="10.4" rx="1" fill="#fff" stroke="#eef0f3" stroke-width="0.5"/>
<text x="741.0" y="20.2" font-size="4.75" fill="#131722">USD</text>
<text x="739.9" y="362.43" font-size="5.0" fill="#131722" textLength="19.9" lengthAdjust="spacingAndGlyphs">35.00000</text>
<text x="739.9" y="349.26" font-size="5.0" fill="#131722" textLength="19.9" lengthAdjust="spacingAndGlyphs">36.00000</text>
<text x="739.9" y="336.09" font-size="5.0" fill="#131722" textLength="19.9" lengthAdjust="spacingAndGlyphs">37.00000</text>
<text x="739.9" y="322.92" font-size="5.0" fill="#131722" textLength="19.9" lengthAdjust="spacingAndGlyphs">38.00000</text>
<text x="739.9" y="309.75" font-size="5.0" fill="#131722" textLength="19.9" lengthAdjust="spacingAndGlyphs">39.00000</text>
<text x="739.9" y="296.58" font-size="5.0" fill="#131722" textLength="19.9" lengthAdjust="spacingAndGlyphs">40.00000</text>
<text x="739.9" y="283.41" font-size="5.0" fill="#131722" textLength="19.9" lengthAdjust="spacingAndGlyphs">41.00000</text>
<text x="739.9" y="270.24" font-size="5.0" fill="#131722" textLength="19.9" lengthAdjust="spacingAndGlyphs">42.00000</text>
<text x="739.9" y="257.07" font-size="5.0" fill="#131722" textLength="19.9" lengthAdjust="spacingAndGlyphs">43.00000</text>
<text x="739.9" y="243.90" font-size="5.0" fill="#131722" textLength="19.9" lengthAdjust="spacingAndGlyphs">44.00000</text>
<text x="739.9" y="230.73" font-size="5.0" fill="#131722" textLength="19.9" lengthAdjust="spacingAndGlyphs">45.00000</text>
<text x="739.9" y="217.56" font-size="5.0" fill="#131722" textLength="19.9" lengthAdjust="spacingAndGlyphs">46.00000</text>
<text x="739.9" y="204.39" font-size="5.0" fill="#131722" textLength="19.9" lengthAdjust="spacingAndGlyphs">47.00000</text>
<text x="739.9" y="191.22" font-size="5.0" fill="#131722" textLength="19.9" lengthAdjust="spacingAndGlyphs">48.00000</text>
<text x="739.9" y="178.05" font-size="5.0" fill="#131722" textLength="19.9" lengthAdjust="spacingAndGlyphs">49.00000</text>
<text x="739.9" y="164.88" font-size="5.0" fill="#131722" textLength="19.9" lengthAdjust="spacingAndGlyphs">50.00000</text>
<text x="739.9" y="151.71" font-size="5.0" fill="#131722" textLength="19.9" lengthAdjust="spacingAndGlyphs">51.00000</text>
<text x="739.9" y="138.54" font-size="5.0" fill="#131722" textLength="19.9" lengthAdjust="spacingAndGlyphs">52.00000</text>
<text x="739.9" y="125.37" font-size="5.0" fill="#131722" textLength="19.9" lengthAdjust="spacingAndGlyphs">53.00000</text>
<text x="739.9" y="112.20" font-size="5.0" fill="#131722" textLength="19.9" lengthAdjust="spacingAndGlyphs">54.00000</text>
<text x="739.9" y="99.03" font-size="5.0" fill="#131722" textLength="19.9" lengthAdjust="spacingAndGlyphs">55.00000</text>
<text x="739.9" y="85.86" font-size="5.0" fill="#131722" textLength="19.9" lengthAdjust="spacingAndGlyphs">56.00000</text>
<text x="739.9" y="72.69" font-size="5.0" fill="#131722" textLength="19.9" lengthAdjust="spacingAndGlyphs">57.00000</text>
<text x="739.9" y="59.52" font-size="5.0" fill="#131722" textLength="19.9" lengthAdjust="spacingAndGlyphs">58.00000</text>
<text x="739.9" y="46.35" font-size="5.0" fill="#131722" textLength="19.9" lengthAdjust="spacingAndGlyphs">59.00000</text>
<text x="739.9" y="33.18" font-size="5.0" fill="#131722" textLength="19.9" lengthAdjust="spacingAndGlyphs">60.00000</text>
<rect x="736.0999999999999" y="48.20" width="25.7" height="6.40" fill="#d5d8df"/>
<text x="739.5" y="53.30" font-size="5.3" font-weight="normal" fill="#131722" textLength="20.5" lengthAdjust="spacingAndGlyphs">58.50035</text>
<rect x="736.0999999999999" y="104.40" width="25.7" height="6.90" fill="#9c27b0"/>
<text x="739.5" y="109.75" font-size="5.3" font-weight="bold" fill="#fff" textLength="20.5" lengthAdjust="spacingAndGlyphs">54.24215</text>
<rect x="736.0999999999999" y="111.30" width="25.7" height="6.80" fill="#9c27b0"/>
<text x="739.5" y="116.60" font-size="5.3" font-weight="bold" fill="#fff" textLength="20.5" lengthAdjust="spacingAndGlyphs">53.92100</text>
<rect x="736.0999999999999" y="118.10" width="25.7" height="6.90" fill="#9c27b0"/>
<text x="739.5" y="123.45" font-size="5.3" font-weight="bold" fill="#fff" textLength="20.5" lengthAdjust="spacingAndGlyphs">53.39385</text>
<rect x="736.0999999999999" y="127.40" width="25.7" height="6.50" fill="#9c27b0"/>
<text x="739.5" y="132.55" font-size="5.3" font-weight="bold" fill="#fff" textLength="20.5" lengthAdjust="spacingAndGlyphs">52.46815</text>
<rect x="736.0999999999999" y="143.80" width="25.7" height="6.90" fill="#9c27b0"/>
<text x="739.5" y="149.15" font-size="5.3" font-weight="bold" fill="#fff" textLength="20.5" lengthAdjust="spacingAndGlyphs">51.24250</text>
<rect x="736.0999999999999" y="150.70" width="25.7" height="6.90" fill="#9c27b0"/>
<text x="739.5" y="156.05" font-size="5.3" font-weight="bold" fill="#fff" textLength="20.5" lengthAdjust="spacingAndGlyphs">51.16220</text>
<rect x="736.0999999999999" y="175.60" width="25.7" height="6.90" fill="#9c27b0"/>
<text x="739.5" y="180.95" font-size="5.3" font-weight="bold" fill="#fff" textLength="20.5" lengthAdjust="spacingAndGlyphs">48.79705</text>
<rect x="736.0999999999999" y="182.50" width="25.7" height="6.90" fill="#9c27b0"/>
<text x="739.5" y="187.85" font-size="5.3" font-weight="bold" fill="#fff" textLength="20.5" lengthAdjust="spacingAndGlyphs">48.48885</text>
<rect x="736.0999999999999" y="189.40" width="25.7" height="6.90" fill="#9c27b0"/>
<text x="739.5" y="194.75" font-size="5.3" font-weight="bold" fill="#fff" textLength="20.5" lengthAdjust="spacingAndGlyphs">48.37545</text>
<rect x="736.0999999999999" y="213.20" width="25.7" height="6.90" fill="#9c27b0"/>
<text x="739.5" y="218.55" font-size="5.3" font-weight="bold" fill="#fff" textLength="20.5" lengthAdjust="spacingAndGlyphs">45.94810</text>
<rect x="736.0999999999999" y="220.10" width="25.7" height="6.90" fill="#9c27b0"/>
<text x="739.5" y="225.45" font-size="5.3" font-weight="bold" fill="#fff" textLength="20.5" lengthAdjust="spacingAndGlyphs">45.81585</text>
<rect x="736.0999999999999" y="227.00" width="25.7" height="7.00" fill="#9c27b0"/>
<text x="739.5" y="232.40" font-size="5.3" font-weight="bold" fill="#fff" textLength="20.5" lengthAdjust="spacingAndGlyphs">45.22585</text>
<rect x="736.0999999999999" y="234.00" width="25.7" height="7.00" fill="#9c27b0"/>
<text x="739.5" y="239.40" font-size="5.3" font-weight="bold" fill="#fff" textLength="20.5" lengthAdjust="spacingAndGlyphs">45.08030</text>
<rect x="736.0999999999999" y="241.00" width="25.7" height="7.00" fill="#9c27b0"/>
<text x="739.5" y="246.40" font-size="5.3" font-weight="bold" fill="#fff" textLength="20.5" lengthAdjust="spacingAndGlyphs">44.32250</text>
<rect x="736.0999999999999" y="252.30" width="25.7" height="6.70" fill="#9c27b0"/>
<text x="739.5" y="257.55" font-size="5.3" font-weight="bold" fill="#fff" textLength="20.5" lengthAdjust="spacingAndGlyphs">42.97200</text>
<rect x="736.0999999999999" y="261.20" width="25.7" height="6.90" fill="#9c27b0"/>
<text x="739.5" y="266.55" font-size="5.3" font-weight="bold" fill="#fff" textLength="20.5" lengthAdjust="spacingAndGlyphs">42.26160</text>
<rect x="736.0999999999999" y="268.10" width="25.7" height="6.90" fill="#9c27b0"/>
<text x="739.5" y="273.45" font-size="5.3" font-weight="bold" fill="#fff" textLength="20.5" lengthAdjust="spacingAndGlyphs">41.76595</text>
<rect x="736.0999999999999" y="278.60" width="25.7" height="7.00" fill="#9c27b0"/>
<text x="739.5" y="284.00" font-size="5.3" font-weight="bold" fill="#fff" textLength="20.5" lengthAdjust="spacingAndGlyphs">40.97785</text>
<rect x="736.0999999999999" y="285.60" width="25.7" height="7.00" fill="#9c27b0"/>
<text x="739.5" y="291.00" font-size="5.3" font-weight="bold" fill="#fff" textLength="20.5" lengthAdjust="spacingAndGlyphs">40.93230</text>
<rect x="736.0999999999999" y="292.60" width="25.7" height="7.00" fill="#9c27b0"/>
<text x="739.5" y="298.00" font-size="5.3" font-weight="bold" fill="#fff" textLength="20.5" lengthAdjust="spacingAndGlyphs">40.19013</text>
<rect x="736.0999999999999" y="299.60" width="25.7" height="7.00" fill="#9c27b0"/>
<text x="739.5" y="305.00" font-size="5.3" font-weight="bold" fill="#fff" textLength="20.5" lengthAdjust="spacingAndGlyphs">39.52775</text>
<rect x="736.0999999999999" y="306.60" width="25.7" height="7.10" fill="#9c27b0"/>
<text x="739.5" y="312.05" font-size="5.3" font-weight="bold" fill="#fff" textLength="20.5" lengthAdjust="spacingAndGlyphs">39.22070</text>
<rect x="736.0999999999999" y="313.70" width="25.7" height="7.00" fill="#9c27b0"/>
<text x="739.5" y="319.10" font-size="5.3" font-weight="bold" fill="#fff" textLength="20.5" lengthAdjust="spacingAndGlyphs">39.13280</text>
<rect x="736.0999999999999" y="320.70" width="25.7" height="7.00" fill="#9c27b0"/>
<text x="739.5" y="326.10" font-size="5.3" font-weight="bold" fill="#fff" textLength="20.5" lengthAdjust="spacingAndGlyphs">39.06450</text>
<rect x="736.0999999999999" y="327.70" width="25.7" height="7.00" fill="#9c27b0"/>
<text x="739.5" y="333.10" font-size="5.3" font-weight="bold" fill="#fff" textLength="20.5" lengthAdjust="spacingAndGlyphs">38.73800</text>
<rect x="736.0999999999999" y="334.70" width="25.7" height="7.00" fill="#9c27b0"/>
<text x="739.5" y="340.10" font-size="5.3" font-weight="bold" fill="#fff" textLength="20.5" lengthAdjust="spacingAndGlyphs">38.69500</text>
<rect x="736.0999999999999" y="341.70" width="25.7" height="7.00" fill="#9c27b0"/>
<text x="739.5" y="347.10" font-size="5.3" font-weight="bold" fill="#fff" textLength="20.5" lengthAdjust="spacingAndGlyphs">38.15530</text>
<rect x="736.0999999999999" y="348.70" width="25.7" height="7.00" fill="#9c27b0"/>
<text x="739.5" y="354.10" font-size="5.3" font-weight="bold" fill="#fff" textLength="20.5" lengthAdjust="spacingAndGlyphs">37.97335</text>
<rect x="736.0999999999999" y="355.70" width="25.7" height="7.10" fill="#9c27b0"/>
<text x="739.5" y="361.15" font-size="5.3" font-weight="bold" fill="#fff" textLength="20.5" lengthAdjust="spacingAndGlyphs">37.50145</text>
<text x="544.3" y="370.6" font-size="4.75" fill="#131722" text-anchor="middle">Sep</text>
<text x="599.3" y="370.6" font-size="4.75" fill="#131722" text-anchor="middle">Oct</text>
<text x="656.5" y="370.6" font-size="4.75" fill="#131722" text-anchor="middle">Nov</text>
<text x="706.5" y="370.6" font-size="4.75" fill="#131722" text-anchor="middle">Dec</text>
<g fill="#131722">
<path d="M5 384h5.9v6.3h-2.8v-3.7H5z"/><circle cx="12.35" cy="385.35" r="1.35"/><path d="M14.2 384h2.9l-2.6 6.3h-2.9z"/>
<text x="21.1" y="390.3" font-size="8.3" stroke="#131722" stroke-width="0.28" textLength="49.5" lengthAdjust="spacingAndGlyphs">TradingView</text>
</g>
</svg>
</body></html>
